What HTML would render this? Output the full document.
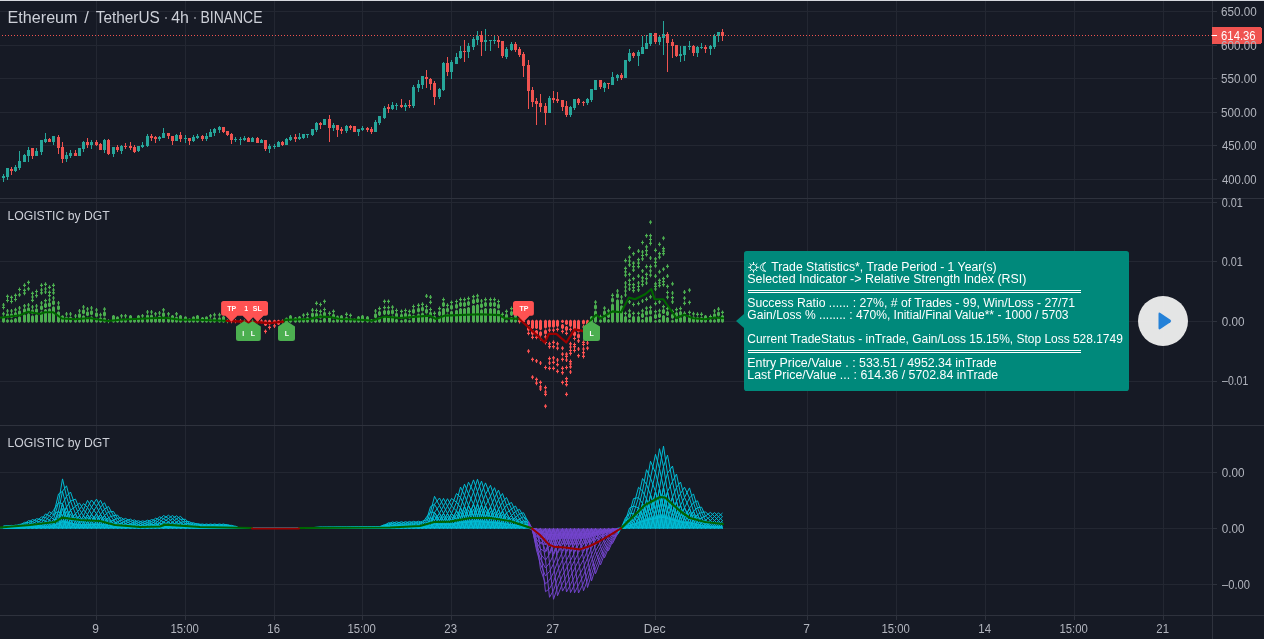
<!DOCTYPE html>
<html><head><meta charset="utf-8"><title>ETHUSDT chart</title><style>
html,body{margin:0;padding:0;width:1264px;height:639px;overflow:hidden;background:#161a25;}
text{font-family:"Liberation Sans",sans-serif;}
</style></head><body>
<svg width="1264" height="639" viewBox="0 0 1264 639" style="position:absolute;left:0;top:0;will-change:transform" font-family="Liberation Sans"><g shape-rendering="crispEdges"><rect x="96" y="1" width="1" height="614" fill="#232732"/><rect x="185" y="1" width="1" height="614" fill="#232732"/><rect x="274" y="1" width="1" height="614" fill="#232732"/><rect x="362" y="1" width="1" height="614" fill="#232732"/><rect x="451" y="1" width="1" height="614" fill="#232732"/><rect x="553" y="1" width="1" height="614" fill="#232732"/><rect x="655" y="1" width="1" height="614" fill="#232732"/><rect x="807" y="1" width="1" height="614" fill="#232732"/><rect x="896" y="1" width="1" height="614" fill="#232732"/><rect x="985" y="1" width="1" height="614" fill="#232732"/><rect x="1074" y="1" width="1" height="614" fill="#232732"/><rect x="1163" y="1" width="1" height="614" fill="#232732"/><rect x="0" y="11" width="1212" height="1" fill="#232732"/><rect x="0" y="45" width="1212" height="1" fill="#232732"/><rect x="0" y="78" width="1212" height="1" fill="#232732"/><rect x="0" y="112" width="1212" height="1" fill="#232732"/><rect x="0" y="145" width="1212" height="1" fill="#232732"/><rect x="0" y="179" width="1212" height="1" fill="#232732"/><rect x="0" y="202" width="1212" height="1" fill="#232732"/><rect x="0" y="261" width="1212" height="1" fill="#232732"/><rect x="0" y="321" width="1212" height="1" fill="#232732"/><rect x="0" y="381" width="1212" height="1" fill="#232732"/><rect x="0" y="472" width="1212" height="1" fill="#232732"/><rect x="0" y="528" width="1212" height="1" fill="#232732"/><rect x="0" y="584" width="1212" height="1" fill="#232732"/><rect x="0" y="198" width="1264" height="1" fill="#2e323d"/><rect x="0" y="425" width="1264" height="1" fill="#2e323d"/><rect x="1212" y="1" width="1" height="638" fill="#2e323d"/><rect x="0" y="615" width="1264" height="1" fill="#2e323d"/><rect x="0" y="0" width="1264" height="1" fill="#d6d8de"/><rect x="1212" y="11" width="5" height="1" fill="#2e323d"/><rect x="1212" y="45" width="5" height="1" fill="#2e323d"/><rect x="1212" y="78" width="5" height="1" fill="#2e323d"/><rect x="1212" y="112" width="5" height="1" fill="#2e323d"/><rect x="1212" y="145" width="5" height="1" fill="#2e323d"/><rect x="1212" y="179" width="5" height="1" fill="#2e323d"/><rect x="1212" y="202" width="5" height="1" fill="#2e323d"/><rect x="1212" y="261" width="5" height="1" fill="#2e323d"/><rect x="1212" y="321" width="5" height="1" fill="#2e323d"/><rect x="1212" y="381" width="5" height="1" fill="#2e323d"/><rect x="1212" y="472" width="5" height="1" fill="#2e323d"/><rect x="1212" y="528" width="5" height="1" fill="#2e323d"/><rect x="1212" y="584" width="5" height="1" fill="#2e323d"/><rect x="96" y="615" width="1" height="5" fill="#2e323d"/><rect x="185" y="615" width="1" height="5" fill="#2e323d"/><rect x="274" y="615" width="1" height="5" fill="#2e323d"/><rect x="362" y="615" width="1" height="5" fill="#2e323d"/><rect x="451" y="615" width="1" height="5" fill="#2e323d"/><rect x="553" y="615" width="1" height="5" fill="#2e323d"/><rect x="655" y="615" width="1" height="5" fill="#2e323d"/><rect x="807" y="615" width="1" height="5" fill="#2e323d"/><rect x="896" y="615" width="1" height="5" fill="#2e323d"/><rect x="985" y="615" width="1" height="5" fill="#2e323d"/><rect x="1074" y="615" width="1" height="5" fill="#2e323d"/><rect x="1163" y="615" width="1" height="5" fill="#2e323d"/><rect x="3" y="174" width="1" height="8" fill="#26a69a"/><rect x="2" y="176" width="3" height="2" fill="#26a69a"/><rect x="7" y="168" width="1" height="12" fill="#26a69a"/><rect x="6" y="168" width="3" height="9" fill="#26a69a"/><rect x="11" y="167" width="1" height="8" fill="#ef5350"/><rect x="10" y="169" width="3" height="2" fill="#ef5350"/><rect x="15" y="165" width="1" height="7" fill="#26a69a"/><rect x="14" y="167" width="3" height="4" fill="#26a69a"/><rect x="19" y="151" width="1" height="19" fill="#26a69a"/><rect x="18" y="161" width="3" height="7" fill="#26a69a"/><rect x="24" y="154" width="1" height="8" fill="#26a69a"/><rect x="23" y="155" width="3" height="7" fill="#26a69a"/><rect x="28" y="147" width="1" height="15" fill="#26a69a"/><rect x="27" y="150" width="3" height="6" fill="#26a69a"/><rect x="32" y="148" width="1" height="11" fill="#ef5350"/><rect x="31" y="148" width="3" height="8" fill="#ef5350"/><rect x="36" y="148" width="1" height="8" fill="#26a69a"/><rect x="35" y="151" width="3" height="5" fill="#26a69a"/><rect x="41" y="140" width="1" height="15" fill="#26a69a"/><rect x="40" y="140" width="3" height="12" fill="#26a69a"/><rect x="45" y="133" width="1" height="10" fill="#26a69a"/><rect x="44" y="139" width="3" height="3" fill="#26a69a"/><rect x="49" y="138" width="1" height="4" fill="#ef5350"/><rect x="48" y="139" width="3" height="3" fill="#ef5350"/><rect x="53" y="136" width="1" height="9" fill="#26a69a"/><rect x="52" y="136" width="3" height="6" fill="#26a69a"/><rect x="58" y="135" width="1" height="19" fill="#ef5350"/><rect x="57" y="137" width="3" height="11" fill="#ef5350"/><rect x="62" y="142" width="1" height="21" fill="#ef5350"/><rect x="61" y="147" width="3" height="12" fill="#ef5350"/><rect x="66" y="152" width="1" height="10" fill="#26a69a"/><rect x="65" y="155" width="3" height="4" fill="#26a69a"/><rect x="70" y="150" width="1" height="8" fill="#26a69a"/><rect x="69" y="153" width="3" height="3" fill="#26a69a"/><rect x="75" y="150" width="1" height="6" fill="#ef5350"/><rect x="74" y="153" width="3" height="3" fill="#ef5350"/><rect x="79" y="148" width="1" height="8" fill="#26a69a"/><rect x="78" y="148" width="3" height="8" fill="#26a69a"/><rect x="83" y="141" width="1" height="11" fill="#26a69a"/><rect x="82" y="142" width="3" height="7" fill="#26a69a"/><rect x="87" y="138" width="1" height="10" fill="#ef5350"/><rect x="86" y="142" width="3" height="3" fill="#ef5350"/><rect x="91" y="140" width="1" height="9" fill="#26a69a"/><rect x="90" y="142" width="3" height="3" fill="#26a69a"/><rect x="96" y="140" width="1" height="6" fill="#ef5350"/><rect x="95" y="142" width="3" height="3" fill="#ef5350"/><rect x="100" y="143" width="1" height="7" fill="#ef5350"/><rect x="99" y="144" width="3" height="6" fill="#ef5350"/><rect x="104" y="139" width="1" height="14" fill="#26a69a"/><rect x="103" y="140" width="3" height="10" fill="#26a69a"/><rect x="108" y="139" width="1" height="16" fill="#ef5350"/><rect x="107" y="140" width="3" height="14" fill="#ef5350"/><rect x="113" y="147" width="1" height="10" fill="#26a69a"/><rect x="112" y="147" width="3" height="7" fill="#26a69a"/><rect x="117" y="145" width="1" height="7" fill="#ef5350"/><rect x="116" y="147" width="3" height="3" fill="#ef5350"/><rect x="121" y="145" width="1" height="9" fill="#26a69a"/><rect x="120" y="146" width="3" height="5" fill="#26a69a"/><rect x="125" y="143" width="1" height="6" fill="#ef5350"/><rect x="124" y="146" width="3" height="1" fill="#ef5350"/><rect x="130" y="142" width="1" height="8" fill="#ef5350"/><rect x="129" y="146" width="3" height="2" fill="#ef5350"/><rect x="134" y="145" width="1" height="8" fill="#ef5350"/><rect x="133" y="147" width="3" height="5" fill="#ef5350"/><rect x="138" y="146" width="1" height="6" fill="#26a69a"/><rect x="137" y="146" width="3" height="5" fill="#26a69a"/><rect x="142" y="142" width="1" height="6" fill="#26a69a"/><rect x="141" y="145" width="3" height="2" fill="#26a69a"/><rect x="147" y="134" width="1" height="13" fill="#26a69a"/><rect x="146" y="136" width="3" height="10" fill="#26a69a"/><rect x="151" y="134" width="1" height="7" fill="#ef5350"/><rect x="150" y="136" width="3" height="2" fill="#ef5350"/><rect x="155" y="136" width="1" height="7" fill="#ef5350"/><rect x="154" y="137" width="3" height="2" fill="#ef5350"/><rect x="159" y="136" width="1" height="5" fill="#26a69a"/><rect x="158" y="137" width="3" height="2" fill="#26a69a"/><rect x="163" y="128" width="1" height="10" fill="#26a69a"/><rect x="162" y="133" width="3" height="5" fill="#26a69a"/><rect x="168" y="133" width="1" height="6" fill="#ef5350"/><rect x="167" y="133" width="3" height="3" fill="#ef5350"/><rect x="172" y="136" width="1" height="9" fill="#ef5350"/><rect x="171" y="136" width="3" height="5" fill="#ef5350"/><rect x="176" y="134" width="1" height="7" fill="#26a69a"/><rect x="175" y="135" width="3" height="6" fill="#26a69a"/><rect x="180" y="132" width="1" height="10" fill="#ef5350"/><rect x="179" y="135" width="3" height="4" fill="#ef5350"/><rect x="185" y="135" width="1" height="8" fill="#26a69a"/><rect x="184" y="138" width="3" height="1" fill="#26a69a"/><rect x="189" y="138" width="1" height="7" fill="#ef5350"/><rect x="188" y="138" width="3" height="3" fill="#ef5350"/><rect x="193" y="135" width="1" height="7" fill="#26a69a"/><rect x="192" y="137" width="3" height="4" fill="#26a69a"/><rect x="197" y="134" width="1" height="5" fill="#26a69a"/><rect x="196" y="136" width="3" height="2" fill="#26a69a"/><rect x="202" y="135" width="1" height="6" fill="#ef5350"/><rect x="201" y="136" width="3" height="3" fill="#ef5350"/><rect x="206" y="133" width="1" height="8" fill="#26a69a"/><rect x="205" y="136" width="3" height="3" fill="#26a69a"/><rect x="210" y="129" width="1" height="8" fill="#26a69a"/><rect x="209" y="132" width="3" height="5" fill="#26a69a"/><rect x="214" y="128" width="1" height="8" fill="#26a69a"/><rect x="213" y="129" width="3" height="4" fill="#26a69a"/><rect x="219" y="126" width="1" height="7" fill="#26a69a"/><rect x="218" y="127" width="3" height="3" fill="#26a69a"/><rect x="223" y="127" width="1" height="6" fill="#ef5350"/><rect x="222" y="127" width="3" height="5" fill="#ef5350"/><rect x="227" y="131" width="1" height="5" fill="#ef5350"/><rect x="226" y="131" width="3" height="4" fill="#ef5350"/><rect x="231" y="133" width="1" height="11" fill="#ef5350"/><rect x="230" y="134" width="3" height="6" fill="#ef5350"/><rect x="235" y="137" width="1" height="5" fill="#26a69a"/><rect x="234" y="139" width="3" height="1" fill="#26a69a"/><rect x="240" y="137" width="1" height="8" fill="#26a69a"/><rect x="239" y="139" width="3" height="1" fill="#26a69a"/><rect x="244" y="136" width="1" height="5" fill="#26a69a"/><rect x="243" y="138" width="3" height="2" fill="#26a69a"/><rect x="248" y="137" width="1" height="5" fill="#ef5350"/><rect x="247" y="138" width="3" height="4" fill="#ef5350"/><rect x="252" y="137" width="1" height="5" fill="#26a69a"/><rect x="251" y="138" width="3" height="4" fill="#26a69a"/><rect x="257" y="137" width="1" height="6" fill="#ef5350"/><rect x="256" y="138" width="3" height="5" fill="#ef5350"/><rect x="261" y="139" width="1" height="4" fill="#26a69a"/><rect x="260" y="140" width="3" height="3" fill="#26a69a"/><rect x="265" y="140" width="1" height="11" fill="#ef5350"/><rect x="264" y="140" width="3" height="9" fill="#ef5350"/><rect x="269" y="144" width="1" height="9" fill="#26a69a"/><rect x="268" y="146" width="3" height="3" fill="#26a69a"/><rect x="274" y="144" width="1" height="5" fill="#26a69a"/><rect x="273" y="146" width="3" height="1" fill="#26a69a"/><rect x="278" y="141" width="1" height="6" fill="#26a69a"/><rect x="277" y="142" width="3" height="5" fill="#26a69a"/><rect x="282" y="141" width="1" height="5" fill="#ef5350"/><rect x="281" y="142" width="3" height="3" fill="#ef5350"/><rect x="286" y="138" width="1" height="7" fill="#26a69a"/><rect x="285" y="139" width="3" height="6" fill="#26a69a"/><rect x="290" y="135" width="1" height="6" fill="#26a69a"/><rect x="289" y="137" width="3" height="3" fill="#26a69a"/><rect x="295" y="134" width="1" height="8" fill="#ef5350"/><rect x="294" y="137" width="3" height="2" fill="#ef5350"/><rect x="299" y="133" width="1" height="7" fill="#26a69a"/><rect x="298" y="137" width="3" height="2" fill="#26a69a"/><rect x="303" y="134" width="1" height="5" fill="#26a69a"/><rect x="302" y="134" width="3" height="4" fill="#26a69a"/><rect x="307" y="134" width="1" height="4" fill="#26a69a"/><rect x="306" y="134" width="3" height="1" fill="#26a69a"/><rect x="312" y="129" width="1" height="7" fill="#26a69a"/><rect x="311" y="129" width="3" height="6" fill="#26a69a"/><rect x="316" y="122" width="1" height="10" fill="#26a69a"/><rect x="315" y="123" width="3" height="7" fill="#26a69a"/><rect x="320" y="122" width="1" height="7" fill="#ef5350"/><rect x="319" y="123" width="3" height="2" fill="#ef5350"/><rect x="324" y="119" width="1" height="6" fill="#26a69a"/><rect x="323" y="119" width="3" height="6" fill="#26a69a"/><rect x="329" y="115" width="1" height="27" fill="#ef5350"/><rect x="328" y="119" width="3" height="9" fill="#ef5350"/><rect x="333" y="123" width="1" height="8" fill="#26a69a"/><rect x="332" y="125" width="3" height="3" fill="#26a69a"/><rect x="337" y="125" width="1" height="12" fill="#ef5350"/><rect x="336" y="125" width="3" height="5" fill="#ef5350"/><rect x="341" y="127" width="1" height="7" fill="#ef5350"/><rect x="340" y="129" width="3" height="2" fill="#ef5350"/><rect x="346" y="125" width="1" height="8" fill="#26a69a"/><rect x="345" y="126" width="3" height="5" fill="#26a69a"/><rect x="350" y="125" width="1" height="5" fill="#ef5350"/><rect x="349" y="126" width="3" height="2" fill="#ef5350"/><rect x="354" y="126" width="1" height="6" fill="#ef5350"/><rect x="353" y="126" width="3" height="6" fill="#ef5350"/><rect x="358" y="129" width="1" height="7" fill="#26a69a"/><rect x="357" y="129" width="3" height="3" fill="#26a69a"/><rect x="362" y="126" width="1" height="5" fill="#26a69a"/><rect x="361" y="128" width="3" height="2" fill="#26a69a"/><rect x="367" y="127" width="1" height="5" fill="#ef5350"/><rect x="366" y="128" width="3" height="2" fill="#ef5350"/><rect x="371" y="127" width="1" height="7" fill="#ef5350"/><rect x="370" y="129" width="3" height="3" fill="#ef5350"/><rect x="375" y="120" width="1" height="12" fill="#26a69a"/><rect x="374" y="122" width="3" height="10" fill="#26a69a"/><rect x="379" y="116" width="1" height="9" fill="#26a69a"/><rect x="378" y="116" width="3" height="7" fill="#26a69a"/><rect x="384" y="106" width="1" height="13" fill="#26a69a"/><rect x="383" y="108" width="3" height="10" fill="#26a69a"/><rect x="388" y="104" width="1" height="9" fill="#ef5350"/><rect x="387" y="107" width="3" height="2" fill="#ef5350"/><rect x="392" y="102" width="1" height="8" fill="#26a69a"/><rect x="391" y="105" width="3" height="4" fill="#26a69a"/><rect x="396" y="103" width="1" height="7" fill="#26a69a"/><rect x="395" y="105" width="3" height="1" fill="#26a69a"/><rect x="401" y="99" width="1" height="9" fill="#ef5350"/><rect x="400" y="105" width="3" height="2" fill="#ef5350"/><rect x="405" y="103" width="1" height="8" fill="#26a69a"/><rect x="404" y="105" width="3" height="2" fill="#26a69a"/><rect x="409" y="100" width="1" height="8" fill="#ef5350"/><rect x="408" y="105" width="3" height="1" fill="#ef5350"/><rect x="413" y="85" width="1" height="23" fill="#26a69a"/><rect x="412" y="87" width="3" height="19" fill="#26a69a"/><rect x="418" y="80" width="1" height="12" fill="#26a69a"/><rect x="417" y="84" width="3" height="4" fill="#26a69a"/><rect x="422" y="76" width="1" height="13" fill="#26a69a"/><rect x="421" y="76" width="3" height="9" fill="#26a69a"/><rect x="426" y="70" width="1" height="18" fill="#ef5350"/><rect x="425" y="77" width="3" height="2" fill="#ef5350"/><rect x="430" y="78" width="1" height="12" fill="#ef5350"/><rect x="429" y="79" width="3" height="5" fill="#ef5350"/><rect x="434" y="81" width="1" height="24" fill="#ef5350"/><rect x="433" y="83" width="3" height="14" fill="#ef5350"/><rect x="439" y="88" width="1" height="11" fill="#26a69a"/><rect x="438" y="89" width="3" height="8" fill="#26a69a"/><rect x="443" y="62" width="1" height="29" fill="#26a69a"/><rect x="442" y="63" width="3" height="27" fill="#26a69a"/><rect x="447" y="57" width="1" height="19" fill="#ef5350"/><rect x="446" y="63" width="3" height="9" fill="#ef5350"/><rect x="451" y="60" width="1" height="19" fill="#26a69a"/><rect x="450" y="62" width="3" height="10" fill="#26a69a"/><rect x="456" y="53" width="1" height="11" fill="#26a69a"/><rect x="455" y="57" width="3" height="7" fill="#26a69a"/><rect x="460" y="46" width="1" height="13" fill="#26a69a"/><rect x="459" y="51" width="3" height="7" fill="#26a69a"/><rect x="464" y="40" width="1" height="22" fill="#ef5350"/><rect x="463" y="51" width="3" height="1" fill="#ef5350"/><rect x="468" y="43" width="1" height="15" fill="#26a69a"/><rect x="467" y="46" width="3" height="6" fill="#26a69a"/><rect x="473" y="37" width="1" height="13" fill="#26a69a"/><rect x="472" y="39" width="3" height="8" fill="#26a69a"/><rect x="477" y="31" width="1" height="14" fill="#26a69a"/><rect x="476" y="36" width="3" height="4" fill="#26a69a"/><rect x="481" y="31" width="1" height="25" fill="#ef5350"/><rect x="480" y="35" width="3" height="7" fill="#ef5350"/><rect x="485" y="29" width="1" height="22" fill="#26a69a"/><rect x="484" y="40" width="3" height="2" fill="#26a69a"/><rect x="490" y="40" width="1" height="11" fill="#26a69a"/><rect x="489" y="40" width="3" height="1" fill="#26a69a"/><rect x="494" y="36" width="1" height="8" fill="#26a69a"/><rect x="493" y="40" width="3" height="1" fill="#26a69a"/><rect x="498" y="36" width="1" height="12" fill="#ef5350"/><rect x="497" y="40" width="3" height="2" fill="#ef5350"/><rect x="502" y="41" width="1" height="17" fill="#ef5350"/><rect x="501" y="41" width="3" height="15" fill="#ef5350"/><rect x="506" y="47" width="1" height="12" fill="#26a69a"/><rect x="505" y="49" width="3" height="8" fill="#26a69a"/><rect x="511" y="42" width="1" height="9" fill="#26a69a"/><rect x="510" y="44" width="3" height="6" fill="#26a69a"/><rect x="515" y="42" width="1" height="10" fill="#ef5350"/><rect x="514" y="44" width="3" height="6" fill="#ef5350"/><rect x="519" y="47" width="1" height="10" fill="#ef5350"/><rect x="518" y="49" width="3" height="6" fill="#ef5350"/><rect x="523" y="52" width="1" height="25" fill="#ef5350"/><rect x="522" y="54" width="3" height="12" fill="#ef5350"/><rect x="528" y="60" width="1" height="49" fill="#ef5350"/><rect x="527" y="65" width="3" height="26" fill="#ef5350"/><rect x="532" y="87" width="1" height="20" fill="#ef5350"/><rect x="531" y="90" width="3" height="12" fill="#ef5350"/><rect x="536" y="98" width="1" height="27" fill="#ef5350"/><rect x="535" y="101" width="3" height="3" fill="#ef5350"/><rect x="540" y="94" width="1" height="18" fill="#ef5350"/><rect x="539" y="103" width="3" height="4" fill="#ef5350"/><rect x="545" y="103" width="1" height="22" fill="#ef5350"/><rect x="544" y="106" width="3" height="7" fill="#ef5350"/><rect x="549" y="96" width="1" height="17" fill="#26a69a"/><rect x="548" y="98" width="3" height="15" fill="#26a69a"/><rect x="553" y="91" width="1" height="12" fill="#ef5350"/><rect x="552" y="98" width="3" height="2" fill="#ef5350"/><rect x="557" y="92" width="1" height="11" fill="#ef5350"/><rect x="556" y="99" width="3" height="2" fill="#ef5350"/><rect x="562" y="100" width="1" height="11" fill="#ef5350"/><rect x="561" y="100" width="3" height="7" fill="#ef5350"/><rect x="566" y="101" width="1" height="16" fill="#ef5350"/><rect x="565" y="106" width="3" height="9" fill="#ef5350"/><rect x="570" y="106" width="1" height="11" fill="#26a69a"/><rect x="569" y="107" width="3" height="8" fill="#26a69a"/><rect x="574" y="99" width="1" height="11" fill="#26a69a"/><rect x="573" y="99" width="3" height="9" fill="#26a69a"/><rect x="578" y="98" width="1" height="7" fill="#ef5350"/><rect x="577" y="99" width="3" height="4" fill="#ef5350"/><rect x="583" y="101" width="1" height="5" fill="#ef5350"/><rect x="582" y="102" width="3" height="1" fill="#ef5350"/><rect x="587" y="98" width="1" height="7" fill="#26a69a"/><rect x="586" y="99" width="3" height="4" fill="#26a69a"/><rect x="591" y="89" width="1" height="13" fill="#26a69a"/><rect x="590" y="89" width="3" height="11" fill="#26a69a"/><rect x="595" y="80" width="1" height="10" fill="#26a69a"/><rect x="594" y="80" width="3" height="10" fill="#26a69a"/><rect x="600" y="80" width="1" height="9" fill="#ef5350"/><rect x="599" y="80" width="3" height="7" fill="#ef5350"/><rect x="604" y="82" width="1" height="10" fill="#26a69a"/><rect x="603" y="83" width="3" height="5" fill="#26a69a"/><rect x="608" y="83" width="1" height="6" fill="#ef5350"/><rect x="607" y="83" width="3" height="1" fill="#ef5350"/><rect x="612" y="72" width="1" height="13" fill="#26a69a"/><rect x="611" y="77" width="3" height="8" fill="#26a69a"/><rect x="617" y="74" width="1" height="7" fill="#26a69a"/><rect x="616" y="75" width="3" height="3" fill="#26a69a"/><rect x="621" y="73" width="1" height="7" fill="#ef5350"/><rect x="620" y="75" width="3" height="3" fill="#ef5350"/><rect x="625" y="60" width="1" height="18" fill="#26a69a"/><rect x="624" y="60" width="3" height="18" fill="#26a69a"/><rect x="629" y="49" width="1" height="13" fill="#26a69a"/><rect x="628" y="53" width="3" height="8" fill="#26a69a"/><rect x="633" y="52" width="1" height="6" fill="#ef5350"/><rect x="632" y="53" width="3" height="3" fill="#ef5350"/><rect x="638" y="50" width="1" height="16" fill="#26a69a"/><rect x="637" y="52" width="3" height="4" fill="#26a69a"/><rect x="642" y="36" width="1" height="18" fill="#26a69a"/><rect x="641" y="47" width="3" height="7" fill="#26a69a"/><rect x="646" y="35" width="1" height="14" fill="#26a69a"/><rect x="645" y="43" width="3" height="6" fill="#26a69a"/><rect x="650" y="33" width="1" height="13" fill="#26a69a"/><rect x="649" y="33" width="3" height="11" fill="#26a69a"/><rect x="655" y="33" width="1" height="11" fill="#ef5350"/><rect x="654" y="33" width="3" height="9" fill="#ef5350"/><rect x="659" y="36" width="1" height="9" fill="#26a69a"/><rect x="658" y="37" width="3" height="5" fill="#26a69a"/><rect x="663" y="21" width="1" height="34" fill="#26a69a"/><rect x="662" y="34" width="3" height="4" fill="#26a69a"/><rect x="667" y="32" width="1" height="40" fill="#ef5350"/><rect x="666" y="34" width="3" height="9" fill="#ef5350"/><rect x="672" y="39" width="1" height="19" fill="#ef5350"/><rect x="671" y="42" width="3" height="4" fill="#ef5350"/><rect x="676" y="45" width="1" height="12" fill="#ef5350"/><rect x="675" y="45" width="3" height="11" fill="#ef5350"/><rect x="680" y="46" width="1" height="16" fill="#26a69a"/><rect x="679" y="54" width="3" height="2" fill="#26a69a"/><rect x="684" y="46" width="1" height="15" fill="#26a69a"/><rect x="683" y="46" width="3" height="9" fill="#26a69a"/><rect x="689" y="41" width="1" height="9" fill="#26a69a"/><rect x="688" y="46" width="3" height="1" fill="#26a69a"/><rect x="693" y="45" width="1" height="11" fill="#ef5350"/><rect x="692" y="46" width="3" height="7" fill="#ef5350"/><rect x="697" y="46" width="1" height="11" fill="#26a69a"/><rect x="696" y="47" width="3" height="6" fill="#26a69a"/><rect x="701" y="43" width="1" height="6" fill="#26a69a"/><rect x="700" y="47" width="3" height="1" fill="#26a69a"/><rect x="705" y="45" width="1" height="8" fill="#ef5350"/><rect x="704" y="47" width="3" height="2" fill="#ef5350"/><rect x="710" y="45" width="1" height="10" fill="#26a69a"/><rect x="709" y="46" width="3" height="3" fill="#26a69a"/><rect x="714" y="34" width="1" height="15" fill="#26a69a"/><rect x="713" y="36" width="3" height="11" fill="#26a69a"/><rect x="718" y="32" width="1" height="10" fill="#26a69a"/><rect x="717" y="32" width="3" height="4" fill="#26a69a"/><rect x="722" y="29" width="1" height="12" fill="#ef5350"/><rect x="721" y="32" width="3" height="4" fill="#ef5350"/><path d="M2 35.5h1M5 35.5h1M8 35.5h1M11 35.5h1M14 35.5h1M17 35.5h1M20 35.5h1M23 35.5h1M26 35.5h1M29 35.5h1M32 35.5h1M35 35.5h1M38 35.5h1M41 35.5h1M44 35.5h1M47 35.5h1M50 35.5h1M53 35.5h1M56 35.5h1M59 35.5h1M62 35.5h1M65 35.5h1M68 35.5h1M71 35.5h1M74 35.5h1M77 35.5h1M80 35.5h1M83 35.5h1M86 35.5h1M89 35.5h1M92 35.5h1M95 35.5h1M98 35.5h1M101 35.5h1M104 35.5h1M107 35.5h1M110 35.5h1M113 35.5h1M116 35.5h1M119 35.5h1M122 35.5h1M125 35.5h1M128 35.5h1M131 35.5h1M134 35.5h1M137 35.5h1M140 35.5h1M143 35.5h1M146 35.5h1M149 35.5h1M152 35.5h1M155 35.5h1M158 35.5h1M161 35.5h1M164 35.5h1M167 35.5h1M170 35.5h1M173 35.5h1M176 35.5h1M179 35.5h1M182 35.5h1M185 35.5h1M188 35.5h1M191 35.5h1M194 35.5h1M197 35.5h1M200 35.5h1M203 35.5h1M206 35.5h1M209 35.5h1M212 35.5h1M215 35.5h1M218 35.5h1M221 35.5h1M224 35.5h1M227 35.5h1M230 35.5h1M233 35.5h1M236 35.5h1M239 35.5h1M242 35.5h1M245 35.5h1M248 35.5h1M251 35.5h1M254 35.5h1M257 35.5h1M260 35.5h1M263 35.5h1M266 35.5h1M269 35.5h1M272 35.5h1M275 35.5h1M278 35.5h1M281 35.5h1M284 35.5h1M287 35.5h1M290 35.5h1M293 35.5h1M296 35.5h1M299 35.5h1M302 35.5h1M305 35.5h1M308 35.5h1M311 35.5h1M314 35.5h1M317 35.5h1M320 35.5h1M323 35.5h1M326 35.5h1M329 35.5h1M332 35.5h1M335 35.5h1M338 35.5h1M341 35.5h1M344 35.5h1M347 35.5h1M350 35.5h1M353 35.5h1M356 35.5h1M359 35.5h1M362 35.5h1M365 35.5h1M368 35.5h1M371 35.5h1M374 35.5h1M377 35.5h1M380 35.5h1M383 35.5h1M386 35.5h1M389 35.5h1M392 35.5h1M395 35.5h1M398 35.5h1M401 35.5h1M404 35.5h1M407 35.5h1M410 35.5h1M413 35.5h1M416 35.5h1M419 35.5h1M422 35.5h1M425 35.5h1M428 35.5h1M431 35.5h1M434 35.5h1M437 35.5h1M440 35.5h1M443 35.5h1M446 35.5h1M449 35.5h1M452 35.5h1M455 35.5h1M458 35.5h1M461 35.5h1M464 35.5h1M467 35.5h1M470 35.5h1M473 35.5h1M476 35.5h1M479 35.5h1M482 35.5h1M485 35.5h1M488 35.5h1M491 35.5h1M494 35.5h1M497 35.5h1M500 35.5h1M503 35.5h1M506 35.5h1M509 35.5h1M512 35.5h1M515 35.5h1M518 35.5h1M521 35.5h1M524 35.5h1M527 35.5h1M530 35.5h1M533 35.5h1M536 35.5h1M539 35.5h1M542 35.5h1M545 35.5h1M548 35.5h1M551 35.5h1M554 35.5h1M557 35.5h1M560 35.5h1M563 35.5h1M566 35.5h1M569 35.5h1M572 35.5h1M575 35.5h1M578 35.5h1M581 35.5h1M584 35.5h1M587 35.5h1M590 35.5h1M593 35.5h1M596 35.5h1M599 35.5h1M602 35.5h1M605 35.5h1M608 35.5h1M611 35.5h1M614 35.5h1M617 35.5h1M620 35.5h1M623 35.5h1M626 35.5h1M629 35.5h1M632 35.5h1M635 35.5h1M638 35.5h1M641 35.5h1M644 35.5h1M647 35.5h1M650 35.5h1M653 35.5h1M656 35.5h1M659 35.5h1M662 35.5h1M665 35.5h1M668 35.5h1M671 35.5h1M674 35.5h1M677 35.5h1M680 35.5h1M683 35.5h1M686 35.5h1M689 35.5h1M692 35.5h1M695 35.5h1M698 35.5h1M701 35.5h1M704 35.5h1M707 35.5h1M710 35.5h1M713 35.5h1M716 35.5h1M719 35.5h1M722 35.5h1M725 35.5h1M728 35.5h1M731 35.5h1M734 35.5h1M737 35.5h1M740 35.5h1M743 35.5h1M746 35.5h1M749 35.5h1M752 35.5h1M755 35.5h1M758 35.5h1M761 35.5h1M764 35.5h1M767 35.5h1M770 35.5h1M773 35.5h1M776 35.5h1M779 35.5h1M782 35.5h1M785 35.5h1M788 35.5h1M791 35.5h1M794 35.5h1M797 35.5h1M800 35.5h1M803 35.5h1M806 35.5h1M809 35.5h1M812 35.5h1M815 35.5h1M818 35.5h1M821 35.5h1M824 35.5h1M827 35.5h1M830 35.5h1M833 35.5h1M836 35.5h1M839 35.5h1M842 35.5h1M845 35.5h1M848 35.5h1M851 35.5h1M854 35.5h1M857 35.5h1M860 35.5h1M863 35.5h1M866 35.5h1M869 35.5h1M872 35.5h1M875 35.5h1M878 35.5h1M881 35.5h1M884 35.5h1M887 35.5h1M890 35.5h1M893 35.5h1M896 35.5h1M899 35.5h1M902 35.5h1M905 35.5h1M908 35.5h1M911 35.5h1M914 35.5h1M917 35.5h1M920 35.5h1M923 35.5h1M926 35.5h1M929 35.5h1M932 35.5h1M935 35.5h1M938 35.5h1M941 35.5h1M944 35.5h1M947 35.5h1M950 35.5h1M953 35.5h1M956 35.5h1M959 35.5h1M962 35.5h1M965 35.5h1M968 35.5h1M971 35.5h1M974 35.5h1M977 35.5h1M980 35.5h1M983 35.5h1M986 35.5h1M989 35.5h1M992 35.5h1M995 35.5h1M998 35.5h1M1001 35.5h1M1004 35.5h1M1007 35.5h1M1010 35.5h1M1013 35.5h1M1016 35.5h1M1019 35.5h1M1022 35.5h1M1025 35.5h1M1028 35.5h1M1031 35.5h1M1034 35.5h1M1037 35.5h1M1040 35.5h1M1043 35.5h1M1046 35.5h1M1049 35.5h1M1052 35.5h1M1055 35.5h1M1058 35.5h1M1061 35.5h1M1064 35.5h1M1067 35.5h1M1070 35.5h1M1073 35.5h1M1076 35.5h1M1079 35.5h1M1082 35.5h1M1085 35.5h1M1088 35.5h1M1091 35.5h1M1094 35.5h1M1097 35.5h1M1100 35.5h1M1103 35.5h1M1106 35.5h1M1109 35.5h1M1112 35.5h1M1115 35.5h1M1118 35.5h1M1121 35.5h1M1124 35.5h1M1127 35.5h1M1130 35.5h1M1133 35.5h1M1136 35.5h1M1139 35.5h1M1142 35.5h1M1145 35.5h1M1148 35.5h1M1151 35.5h1M1154 35.5h1M1157 35.5h1M1160 35.5h1M1163 35.5h1M1166 35.5h1M1169 35.5h1M1172 35.5h1M1175 35.5h1M1178 35.5h1M1181 35.5h1M1184 35.5h1M1187 35.5h1M1190 35.5h1M1193 35.5h1M1196 35.5h1M1199 35.5h1M1202 35.5h1M1205 35.5h1M1208 35.5h1M1211 35.5h1" stroke="#ef5350" stroke-width="1" fill="none"/></g><path d="M2.00 313.20h3v1.2h-3zM2.95 311.80h1.1v4h-1.1zM3.00 316.30h1l1 1.3v3.90l-1 1.3h-1l-1 -1.3v-3.90zM2.00 304.40h3v1.2h-3zM2.95 303.00h1.1v4h-1.1zM2.00 306.90h3v1.2h-3zM2.95 305.50h1.1v4h-1.1zM6.00 310.40h3v1.2h-3zM6.95 309.00h1.1v4h-1.1zM7.00 313.30h1l1 1.3v2.40l-1 1.3h-1l-1 -1.3v-2.40zM7.00 319.30h1l1 1.3v0.90l-1 1.3h-1l-1 -1.3v-0.90zM6.00 295.80h3v1.2h-3zM6.95 294.40h1.1v4h-1.1zM6.00 299.90h3v1.2h-3zM6.95 298.50h1.1v4h-1.1zM10.00 310.40h3v1.2h-3zM10.95 309.00h1.1v4h-1.1zM11.00 313.30h1l1 1.3v2.40l-1 1.3h-1l-1 -1.3v-2.40zM11.00 319.30h1l1 1.3v0.90l-1 1.3h-1l-1 -1.3v-0.90zM10.00 296.80h3v1.2h-3zM10.95 295.40h1.1v4h-1.1zM10.00 300.90h3v1.2h-3zM10.95 299.50h1.1v4h-1.1zM14.00 309.20h3v1.2h-3zM14.95 307.80h1.1v4h-1.1zM15.00 312.10h1l1 1.3v2.40l-1 1.3h-1l-1 -1.3v-2.40zM15.00 318.10h1l1 1.3v2.10l-1 1.3h-1l-1 -1.3v-2.10zM14.00 294.80h3v1.2h-3zM14.95 293.40h1.1v4h-1.1zM14.00 298.90h3v1.2h-3zM14.95 297.50h1.1v4h-1.1zM18.00 307.40h3v1.2h-3zM18.95 306.00h1.1v4h-1.1zM19.00 310.30h1l1 1.3v2.40l-1 1.3h-1l-1 -1.3v-2.40zM19.00 316.30h1l1 1.3v3.90l-1 1.3h-1l-1 -1.3v-3.90zM18.00 288.90h3v1.2h-3zM18.95 287.50h1.1v4h-1.1zM18.00 294.20h3v1.2h-3zM18.95 292.80h1.1v4h-1.1zM23.00 305.30h3v1.2h-3zM23.95 303.90h1.1v4h-1.1zM24.00 308.20h1l1 1.3v2.40l-1 1.3h-1l-1 -1.3v-2.40zM24.00 314.20h1l1 1.3v6.00l-1 1.3h-1l-1 -1.3v-6.00zM23.00 284.70h3v1.2h-3zM23.95 283.30h1.1v4h-1.1zM23.00 289.80h3v1.2h-3zM23.95 288.40h1.1v4h-1.1zM23.00 292.60h3v1.2h-3zM23.95 291.20h1.1v4h-1.1zM27.00 304.40h3v1.2h-3zM27.95 303.00h1.1v4h-1.1zM28.00 307.30h1l1 1.3v2.40l-1 1.3h-1l-1 -1.3v-2.40zM28.00 313.30h1l1 1.3v6.90l-1 1.3h-1l-1 -1.3v-6.90zM27.00 281.80h3v1.2h-3zM27.95 280.40h1.1v4h-1.1zM27.00 288.20h3v1.2h-3zM27.95 286.80h1.1v4h-1.1zM31.00 306.40h3v1.2h-3zM31.95 305.00h1.1v4h-1.1zM32.00 309.30h1l1 1.3v2.40l-1 1.3h-1l-1 -1.3v-2.40zM32.00 315.30h1l1 1.3v4.90l-1 1.3h-1l-1 -1.3v-4.90zM31.00 292.80h3v1.2h-3zM31.95 291.40h1.1v4h-1.1zM31.00 296.40h3v1.2h-3zM31.95 295.00h1.1v4h-1.1zM31.00 299.70h3v1.2h-3zM31.95 298.30h1.1v4h-1.1zM35.00 305.40h3v1.2h-3zM35.95 304.00h1.1v4h-1.1zM36.00 308.30h1l1 1.3v2.40l-1 1.3h-1l-1 -1.3v-2.40zM36.00 314.30h1l1 1.3v5.90l-1 1.3h-1l-1 -1.3v-5.90zM35.00 290.90h3v1.2h-3zM35.95 289.50h1.1v4h-1.1zM35.00 295.10h3v1.2h-3zM35.95 293.70h1.1v4h-1.1zM40.00 302.40h3v1.2h-3zM40.95 301.00h1.1v4h-1.1zM41.00 305.30h1l1 1.3v2.40l-1 1.3h-1l-1 -1.3v-2.40zM41.00 311.30h1l1 1.3v8.90l-1 1.3h-1l-1 -1.3v-8.90zM40.00 284.70h3v1.2h-3zM40.95 283.30h1.1v4h-1.1zM40.00 289.40h3v1.2h-3zM40.95 288.00h1.1v4h-1.1zM40.00 292.20h3v1.2h-3zM40.95 290.80h1.1v4h-1.1zM44.00 300.10h3v1.2h-3zM44.95 298.70h1.1v4h-1.1zM45.00 303.00h1l1 1.3v2.40l-1 1.3h-1l-1 -1.3v-2.40zM45.00 309.00h1l1 1.3v11.20l-1 1.3h-1l-1 -1.3v-11.20zM44.00 283.70h3v1.2h-3zM44.95 282.30h1.1v4h-1.1zM44.00 288.40h3v1.2h-3zM44.95 287.00h1.1v4h-1.1zM44.00 291.40h3v1.2h-3zM44.95 290.00h1.1v4h-1.1zM48.00 299.40h3v1.2h-3zM48.95 298.00h1.1v4h-1.1zM49.00 302.30h1l1 1.3v2.40l-1 1.3h-1l-1 -1.3v-2.40zM49.00 308.30h1l1 1.3v11.90l-1 1.3h-1l-1 -1.3v-11.90zM48.00 286.70h3v1.2h-3zM48.95 285.30h1.1v4h-1.1zM48.00 291.80h3v1.2h-3zM48.95 290.40h1.1v4h-1.1zM48.00 295.00h3v1.2h-3zM48.95 293.60h1.1v4h-1.1zM52.00 297.40h3v1.2h-3zM52.95 296.00h1.1v4h-1.1zM53.00 300.30h1l1 1.3v2.40l-1 1.3h-1l-1 -1.3v-2.40zM53.00 306.30h1l1 1.3v13.90l-1 1.3h-1l-1 -1.3v-13.90zM52.00 284.70h3v1.2h-3zM52.95 283.30h1.1v4h-1.1zM52.00 289.40h3v1.2h-3zM52.95 288.00h1.1v4h-1.1zM52.00 292.20h3v1.2h-3zM52.95 290.80h1.1v4h-1.1zM57.00 302.40h3v1.2h-3zM57.95 301.00h1.1v4h-1.1zM58.00 305.30h1l1 1.3v2.40l-1 1.3h-1l-1 -1.3v-2.40zM58.00 311.30h1l1 1.3v8.90l-1 1.3h-1l-1 -1.3v-8.90zM62.00 315.30h1l1 1.3v4.90l-1 1.3h-1l-1 -1.3v-4.90zM65.00 313.40h3v1.2h-3zM65.95 312.00h1.1v4h-1.1zM66.00 316.50h1l1 1.3v3.70l-1 1.3h-1l-1 -1.3v-3.70zM69.00 313.40h3v1.2h-3zM69.95 312.00h1.1v4h-1.1zM70.00 316.50h1l1 1.3v3.70l-1 1.3h-1l-1 -1.3v-3.70zM74.00 315.40h3v1.2h-3zM74.95 314.00h1.1v4h-1.1zM75.00 318.50h1l1 1.3v1.70l-1 1.3h-1l-1 -1.3v-1.70zM78.00 310.40h3v1.2h-3zM78.95 309.00h1.1v4h-1.1zM79.00 313.30h1l1 1.3v2.40l-1 1.3h-1l-1 -1.3v-2.40zM79.00 319.30h1l1 1.3v0.90l-1 1.3h-1l-1 -1.3v-0.90zM82.00 306.40h3v1.2h-3zM82.95 305.00h1.1v4h-1.1zM83.00 309.30h1l1 1.3v2.40l-1 1.3h-1l-1 -1.3v-2.40zM83.00 315.30h1l1 1.3v4.90l-1 1.3h-1l-1 -1.3v-4.90zM86.00 308.40h3v1.2h-3zM86.95 307.00h1.1v4h-1.1zM87.00 311.30h1l1 1.3v2.40l-1 1.3h-1l-1 -1.3v-2.40zM87.00 317.30h1l1 1.3v2.90l-1 1.3h-1l-1 -1.3v-2.90zM90.00 307.40h3v1.2h-3zM90.95 306.00h1.1v4h-1.1zM91.00 310.30h1l1 1.3v2.40l-1 1.3h-1l-1 -1.3v-2.40zM91.00 316.30h1l1 1.3v3.90l-1 1.3h-1l-1 -1.3v-3.90zM95.00 309.40h3v1.2h-3zM95.95 308.00h1.1v4h-1.1zM96.00 312.30h1l1 1.3v2.40l-1 1.3h-1l-1 -1.3v-2.40zM96.00 318.30h1l1 1.3v1.90l-1 1.3h-1l-1 -1.3v-1.90zM99.00 314.20h3v1.2h-3zM99.95 312.80h1.1v4h-1.1zM100.00 317.30h1l1 1.3v2.90l-1 1.3h-1l-1 -1.3v-2.90zM103.00 308.60h3v1.2h-3zM103.95 307.20h1.1v4h-1.1zM104.00 311.50h1l1 1.3v2.40l-1 1.3h-1l-1 -1.3v-2.40zM104.00 317.50h1l1 1.3v2.70l-1 1.3h-1l-1 -1.3v-2.70zM107.00 320.70h3v1.2h-3zM107.95 319.30h1.1v4h-1.1zM113.00 315.00h1l1 1.3v5.20l-1 1.3h-1l-1 -1.3v-5.20zM117.00 316.30h1l1 1.3v3.90l-1 1.3h-1l-1 -1.3v-3.90zM120.00 315.30h3v1.2h-3zM120.95 313.90h1.1v4h-1.1zM121.00 318.40h1l1 1.3v1.80l-1 1.3h-1l-1 -1.3v-1.80zM124.00 315.30h3v1.2h-3zM124.95 313.90h1.1v4h-1.1zM125.00 318.40h1l1 1.3v1.80l-1 1.3h-1l-1 -1.3v-1.80zM130.00 315.00h1l1 1.3v5.20l-1 1.3h-1l-1 -1.3v-5.20zM134.00 318.20h1l1 1.3v2.00l-1 1.3h-1l-1 -1.3v-2.00zM138.00 315.00h1l1 1.3v5.20l-1 1.3h-1l-1 -1.3v-5.20zM141.00 315.30h3v1.2h-3zM141.95 313.90h1.1v4h-1.1zM142.00 318.40h1l1 1.3v1.80l-1 1.3h-1l-1 -1.3v-1.80zM146.00 311.40h3v1.2h-3zM146.95 310.00h1.1v4h-1.1zM147.00 314.50h1l1 1.3v5.70l-1 1.3h-1l-1 -1.3v-5.70zM150.00 311.40h3v1.2h-3zM150.95 310.00h1.1v4h-1.1zM151.00 314.50h1l1 1.3v5.70l-1 1.3h-1l-1 -1.3v-5.70zM154.00 313.30h3v1.2h-3zM154.95 311.90h1.1v4h-1.1zM155.00 316.40h1l1 1.3v3.80l-1 1.3h-1l-1 -1.3v-3.80zM158.00 312.40h3v1.2h-3zM158.95 311.00h1.1v4h-1.1zM159.00 315.50h1l1 1.3v4.70l-1 1.3h-1l-1 -1.3v-4.70zM162.00 309.30h3v1.2h-3zM162.95 307.90h1.1v4h-1.1zM163.00 312.20h1l1 1.3v2.40l-1 1.3h-1l-1 -1.3v-2.40zM163.00 318.20h1l1 1.3v2.00l-1 1.3h-1l-1 -1.3v-2.00zM167.00 313.30h3v1.2h-3zM167.95 311.90h1.1v4h-1.1zM168.00 316.40h1l1 1.3v3.80l-1 1.3h-1l-1 -1.3v-3.80zM172.00 315.00h1l1 1.3v5.20l-1 1.3h-1l-1 -1.3v-5.20zM175.00 313.30h3v1.2h-3zM175.95 311.90h1.1v4h-1.1zM176.00 316.40h1l1 1.3v3.80l-1 1.3h-1l-1 -1.3v-3.80zM180.00 315.00h1l1 1.3v5.20l-1 1.3h-1l-1 -1.3v-5.20zM185.00 316.30h1l1 1.3v3.90l-1 1.3h-1l-1 -1.3v-3.90zM189.00 318.20h1l1 1.3v2.00l-1 1.3h-1l-1 -1.3v-2.00zM193.00 316.30h1l1 1.3v3.90l-1 1.3h-1l-1 -1.3v-3.90zM197.00 315.00h1l1 1.3v5.20l-1 1.3h-1l-1 -1.3v-5.20zM202.00 317.00h1l1 1.3v3.20l-1 1.3h-1l-1 -1.3v-3.20zM206.00 316.30h1l1 1.3v3.90l-1 1.3h-1l-1 -1.3v-3.90zM209.00 315.30h3v1.2h-3zM209.95 313.90h1.1v4h-1.1zM210.00 318.40h1l1 1.3v1.80l-1 1.3h-1l-1 -1.3v-1.80zM213.00 314.20h3v1.2h-3zM213.95 312.80h1.1v4h-1.1zM214.00 317.30h1l1 1.3v2.90l-1 1.3h-1l-1 -1.3v-2.90zM218.00 314.20h3v1.2h-3zM218.95 312.80h1.1v4h-1.1zM219.00 317.30h1l1 1.3v2.90l-1 1.3h-1l-1 -1.3v-2.90zM223.00 315.90h1l1 1.3v4.30l-1 1.3h-1l-1 -1.3v-4.30zM226.00 320.55h3v1.2h-3zM226.95 319.15h1.1v4h-1.1zM243.00 320.80h3v1.2h-3zM243.95 319.40h1.1v4h-1.1zM251.00 320.80h3v1.2h-3zM251.95 319.40h1.1v4h-1.1zM286.00 317.50h1l1 1.3v2.70l-1 1.3h-1l-1 -1.3v-2.70zM290.00 315.10h1l1 1.3v5.10l-1 1.3h-1l-1 -1.3v-5.10zM295.00 317.00h1l1 1.3v3.20l-1 1.3h-1l-1 -1.3v-3.20zM299.00 316.10h1l1 1.3v4.10l-1 1.3h-1l-1 -1.3v-4.10zM302.00 314.60h3v1.2h-3zM302.95 313.20h1.1v4h-1.1zM303.00 317.70h1l1 1.3v2.50l-1 1.3h-1l-1 -1.3v-2.50zM306.00 313.70h3v1.2h-3zM306.95 312.30h1.1v4h-1.1zM307.00 316.80h1l1 1.3v3.40l-1 1.3h-1l-1 -1.3v-3.40zM311.00 309.50h3v1.2h-3zM311.95 308.10h1.1v4h-1.1zM312.00 312.40h1l1 1.3v2.40l-1 1.3h-1l-1 -1.3v-2.40zM312.00 318.40h1l1 1.3v1.80l-1 1.3h-1l-1 -1.3v-1.80zM315.00 309.90h3v1.2h-3zM315.95 308.50h1.1v4h-1.1zM316.00 312.80h1l1 1.3v2.40l-1 1.3h-1l-1 -1.3v-2.40zM316.00 318.80h1l1 1.3v1.40l-1 1.3h-1l-1 -1.3v-1.40zM315.00 302.70h3v1.2h-3zM315.95 301.30h1.1v4h-1.1zM319.00 310.80h3v1.2h-3zM319.95 309.40h1.1v4h-1.1zM320.00 313.70h1l1 1.3v2.40l-1 1.3h-1l-1 -1.3v-2.40zM320.00 319.70h1l1 1.3v0.50l-1 1.3h-1l-1 -1.3v-0.50zM319.00 303.90h3v1.2h-3zM319.95 302.50h1.1v4h-1.1zM323.00 308.90h3v1.2h-3zM323.95 307.50h1.1v4h-1.1zM324.00 311.80h1l1 1.3v2.40l-1 1.3h-1l-1 -1.3v-2.40zM324.00 317.80h1l1 1.3v2.40l-1 1.3h-1l-1 -1.3v-2.40zM323.00 300.80h3v1.2h-3zM323.95 299.40h1.1v4h-1.1zM328.00 312.70h3v1.2h-3zM328.95 311.30h1.1v4h-1.1zM329.00 315.80h1l1 1.3v4.40l-1 1.3h-1l-1 -1.3v-4.40zM332.00 310.80h3v1.2h-3zM332.95 309.40h1.1v4h-1.1zM333.00 313.70h1l1 1.3v2.40l-1 1.3h-1l-1 -1.3v-2.40zM333.00 319.70h1l1 1.3v0.50l-1 1.3h-1l-1 -1.3v-0.50zM337.00 315.60h1l1 1.3v4.60l-1 1.3h-1l-1 -1.3v-4.60zM341.00 315.10h1l1 1.3v5.10l-1 1.3h-1l-1 -1.3v-5.10zM345.00 313.70h3v1.2h-3zM345.95 312.30h1.1v4h-1.1zM346.00 316.80h1l1 1.3v3.40l-1 1.3h-1l-1 -1.3v-3.40zM349.00 314.80h3v1.2h-3zM349.95 313.40h1.1v4h-1.1zM350.00 317.90h1l1 1.3v2.30l-1 1.3h-1l-1 -1.3v-2.30zM354.00 318.50h1l1 1.3v1.70l-1 1.3h-1l-1 -1.3v-1.70zM358.00 316.10h1l1 1.3v4.10l-1 1.3h-1l-1 -1.3v-4.10zM362.00 315.10h1l1 1.3v5.10l-1 1.3h-1l-1 -1.3v-5.10zM367.00 316.10h1l1 1.3v4.10l-1 1.3h-1l-1 -1.3v-4.10zM371.00 319.00h1l1 1.3v1.20l-1 1.3h-1l-1 -1.3v-1.20zM374.00 310.40h3v1.2h-3zM374.95 309.00h1.1v4h-1.1zM375.00 313.30h1l1 1.3v2.40l-1 1.3h-1l-1 -1.3v-2.40zM375.00 319.30h1l1 1.3v0.90l-1 1.3h-1l-1 -1.3v-0.90zM378.00 308.00h3v1.2h-3zM378.95 306.60h1.1v4h-1.1zM379.00 310.90h1l1 1.3v2.40l-1 1.3h-1l-1 -1.3v-2.40zM379.00 316.90h1l1 1.3v3.30l-1 1.3h-1l-1 -1.3v-3.30zM383.00 307.00h3v1.2h-3zM383.95 305.60h1.1v4h-1.1zM384.00 309.90h1l1 1.3v2.40l-1 1.3h-1l-1 -1.3v-2.40zM384.00 315.90h1l1 1.3v4.30l-1 1.3h-1l-1 -1.3v-4.30zM383.00 300.80h3v1.2h-3zM383.95 299.40h1.1v4h-1.1zM387.00 307.00h3v1.2h-3zM387.95 305.60h1.1v4h-1.1zM388.00 309.90h1l1 1.3v2.40l-1 1.3h-1l-1 -1.3v-2.40zM388.00 315.90h1l1 1.3v4.30l-1 1.3h-1l-1 -1.3v-4.30zM387.00 300.80h3v1.2h-3zM387.95 299.40h1.1v4h-1.1zM391.00 306.60h3v1.2h-3zM391.95 305.20h1.1v4h-1.1zM392.00 309.50h1l1 1.3v2.40l-1 1.3h-1l-1 -1.3v-2.40zM392.00 315.50h1l1 1.3v4.70l-1 1.3h-1l-1 -1.3v-4.70zM395.00 309.90h3v1.2h-3zM395.95 308.50h1.1v4h-1.1zM396.00 312.80h1l1 1.3v2.40l-1 1.3h-1l-1 -1.3v-2.40zM396.00 318.80h1l1 1.3v1.40l-1 1.3h-1l-1 -1.3v-1.40zM400.00 310.80h3v1.2h-3zM400.95 309.40h1.1v4h-1.1zM401.00 313.70h1l1 1.3v2.40l-1 1.3h-1l-1 -1.3v-2.40zM401.00 319.70h1l1 1.3v0.50l-1 1.3h-1l-1 -1.3v-0.50zM404.00 309.90h3v1.2h-3zM404.95 308.50h1.1v4h-1.1zM405.00 312.80h1l1 1.3v2.40l-1 1.3h-1l-1 -1.3v-2.40zM405.00 318.80h1l1 1.3v1.40l-1 1.3h-1l-1 -1.3v-1.40zM408.00 310.80h3v1.2h-3zM408.95 309.40h1.1v4h-1.1zM409.00 313.70h1l1 1.3v2.40l-1 1.3h-1l-1 -1.3v-2.40zM409.00 319.70h1l1 1.3v0.50l-1 1.3h-1l-1 -1.3v-0.50zM412.00 305.90h3v1.2h-3zM412.95 304.50h1.1v4h-1.1zM413.00 308.80h1l1 1.3v2.40l-1 1.3h-1l-1 -1.3v-2.40zM413.00 314.80h1l1 1.3v5.40l-1 1.3h-1l-1 -1.3v-5.40zM417.00 304.70h3v1.2h-3zM417.95 303.30h1.1v4h-1.1zM418.00 307.60h1l1 1.3v2.40l-1 1.3h-1l-1 -1.3v-2.40zM418.00 313.60h1l1 1.3v6.60l-1 1.3h-1l-1 -1.3v-6.60zM421.00 303.70h3v1.2h-3zM421.95 302.30h1.1v4h-1.1zM422.00 306.60h1l1 1.3v2.40l-1 1.3h-1l-1 -1.3v-2.40zM422.00 312.60h1l1 1.3v7.60l-1 1.3h-1l-1 -1.3v-7.60zM425.00 305.90h3v1.2h-3zM425.95 304.50h1.1v4h-1.1zM426.00 308.80h1l1 1.3v2.40l-1 1.3h-1l-1 -1.3v-2.40zM426.00 314.80h1l1 1.3v5.40l-1 1.3h-1l-1 -1.3v-5.40zM425.00 295.50h3v1.2h-3zM425.95 294.10h1.1v4h-1.1zM429.00 308.90h3v1.2h-3zM429.95 307.50h1.1v4h-1.1zM430.00 311.80h1l1 1.3v2.40l-1 1.3h-1l-1 -1.3v-2.40zM430.00 317.80h1l1 1.3v2.40l-1 1.3h-1l-1 -1.3v-2.40zM429.00 296.50h3v1.2h-3zM429.95 295.10h1.1v4h-1.1zM429.00 301.70h3v1.2h-3zM429.95 300.30h1.1v4h-1.1zM433.00 312.70h3v1.2h-3zM433.95 311.30h1.1v4h-1.1zM434.00 315.80h1l1 1.3v4.40l-1 1.3h-1l-1 -1.3v-4.40zM438.00 308.00h3v1.2h-3zM438.95 306.60h1.1v4h-1.1zM439.00 310.90h1l1 1.3v2.40l-1 1.3h-1l-1 -1.3v-2.40zM439.00 316.90h1l1 1.3v3.30l-1 1.3h-1l-1 -1.3v-3.30zM442.00 299.00h3v1.2h-3zM442.95 297.60h1.1v4h-1.1zM443.00 301.90h1l1 1.3v2.40l-1 1.3h-1l-1 -1.3v-2.40zM443.00 307.90h1l1 1.3v12.30l-1 1.3h-1l-1 -1.3v-12.30zM446.00 304.70h3v1.2h-3zM446.95 303.30h1.1v4h-1.1zM447.00 307.60h1l1 1.3v2.40l-1 1.3h-1l-1 -1.3v-2.40zM447.00 313.60h1l1 1.3v6.60l-1 1.3h-1l-1 -1.3v-6.60zM450.00 301.80h3v1.2h-3zM450.95 300.40h1.1v4h-1.1zM451.00 304.70h1l1 1.3v2.40l-1 1.3h-1l-1 -1.3v-2.40zM451.00 310.70h1l1 1.3v9.50l-1 1.3h-1l-1 -1.3v-9.50zM455.00 300.90h3v1.2h-3zM455.95 299.50h1.1v4h-1.1zM456.00 303.80h1l1 1.3v2.40l-1 1.3h-1l-1 -1.3v-2.40zM456.00 309.80h1l1 1.3v10.40l-1 1.3h-1l-1 -1.3v-10.40zM459.00 299.00h3v1.2h-3zM459.95 297.60h1.1v4h-1.1zM460.00 301.90h1l1 1.3v2.40l-1 1.3h-1l-1 -1.3v-2.40zM460.00 307.90h1l1 1.3v12.30l-1 1.3h-1l-1 -1.3v-12.30zM463.00 299.00h3v1.2h-3zM463.95 297.60h1.1v4h-1.1zM464.00 301.90h1l1 1.3v2.40l-1 1.3h-1l-1 -1.3v-2.40zM464.00 307.90h1l1 1.3v12.30l-1 1.3h-1l-1 -1.3v-12.30zM467.00 298.00h3v1.2h-3zM467.95 296.60h1.1v4h-1.1zM468.00 300.90h1l1 1.3v2.40l-1 1.3h-1l-1 -1.3v-2.40zM468.00 306.90h1l1 1.3v13.30l-1 1.3h-1l-1 -1.3v-13.30zM472.00 296.10h3v1.2h-3zM472.95 294.70h1.1v4h-1.1zM473.00 299.00h1l1 1.3v2.40l-1 1.3h-1l-1 -1.3v-2.40zM473.00 305.00h1l1 1.3v15.20l-1 1.3h-1l-1 -1.3v-15.20zM476.00 295.20h3v1.2h-3zM476.95 293.80h1.1v4h-1.1zM477.00 298.10h1l1 1.3v2.40l-1 1.3h-1l-1 -1.3v-2.40zM477.00 304.10h1l1 1.3v16.10l-1 1.3h-1l-1 -1.3v-16.10zM480.00 300.40h3v1.2h-3zM480.95 299.00h1.1v4h-1.1zM481.00 303.30h1l1 1.3v2.40l-1 1.3h-1l-1 -1.3v-2.40zM481.00 309.30h1l1 1.3v10.90l-1 1.3h-1l-1 -1.3v-10.90zM484.00 299.00h3v1.2h-3zM484.95 297.60h1.1v4h-1.1zM485.00 301.90h1l1 1.3v2.40l-1 1.3h-1l-1 -1.3v-2.40zM485.00 307.90h1l1 1.3v12.30l-1 1.3h-1l-1 -1.3v-12.30zM489.00 299.00h3v1.2h-3zM489.95 297.60h1.1v4h-1.1zM490.00 301.90h1l1 1.3v2.40l-1 1.3h-1l-1 -1.3v-2.40zM490.00 307.90h1l1 1.3v12.30l-1 1.3h-1l-1 -1.3v-12.30zM493.00 299.00h3v1.2h-3zM493.95 297.60h1.1v4h-1.1zM494.00 301.90h1l1 1.3v2.40l-1 1.3h-1l-1 -1.3v-2.40zM494.00 307.90h1l1 1.3v12.30l-1 1.3h-1l-1 -1.3v-12.30zM497.00 300.90h3v1.2h-3zM497.95 299.50h1.1v4h-1.1zM498.00 303.80h1l1 1.3v2.40l-1 1.3h-1l-1 -1.3v-2.40zM498.00 309.80h1l1 1.3v10.40l-1 1.3h-1l-1 -1.3v-10.40zM501.00 313.70h3v1.2h-3zM501.95 312.30h1.1v4h-1.1zM502.00 316.80h1l1 1.3v3.40l-1 1.3h-1l-1 -1.3v-3.40zM505.00 310.80h3v1.2h-3zM505.95 309.40h1.1v4h-1.1zM506.00 313.70h1l1 1.3v2.40l-1 1.3h-1l-1 -1.3v-2.40zM506.00 319.70h1l1 1.3v0.50l-1 1.3h-1l-1 -1.3v-0.50zM510.00 308.00h3v1.2h-3zM510.95 306.60h1.1v4h-1.1zM511.00 310.90h1l1 1.3v2.40l-1 1.3h-1l-1 -1.3v-2.40zM511.00 316.90h1l1 1.3v3.30l-1 1.3h-1l-1 -1.3v-3.30zM514.00 310.40h3v1.2h-3zM514.95 309.00h1.1v4h-1.1zM515.00 313.30h1l1 1.3v2.40l-1 1.3h-1l-1 -1.3v-2.40zM515.00 319.30h1l1 1.3v0.90l-1 1.3h-1l-1 -1.3v-0.90zM519.00 318.00h1l1 1.3v2.20l-1 1.3h-1l-1 -1.3v-2.20zM591.00 316.00h1l1 1.3v4.20l-1 1.3h-1l-1 -1.3v-4.20zM594.00 301.60h3v1.2h-3zM594.95 300.20h1.1v4h-1.1zM595.00 304.50h1l1 1.3v2.40l-1 1.3h-1l-1 -1.3v-2.40zM595.00 310.50h1l1 1.3v9.70l-1 1.3h-1l-1 -1.3v-9.70zM599.00 316.20h3v1.2h-3zM599.95 314.80h1.1v4h-1.1zM600.00 319.30h1l1 1.3v0.90l-1 1.3h-1l-1 -1.3v-0.90zM603.00 307.60h3v1.2h-3zM603.95 306.20h1.1v4h-1.1zM604.00 310.50h1l1 1.3v2.40l-1 1.3h-1l-1 -1.3v-2.40zM604.00 316.50h1l1 1.3v3.70l-1 1.3h-1l-1 -1.3v-3.70zM607.00 310.20h3v1.2h-3zM607.95 308.80h1.1v4h-1.1zM608.00 313.10h1l1 1.3v2.40l-1 1.3h-1l-1 -1.3v-2.40zM608.00 319.10h1l1 1.3v1.10l-1 1.3h-1l-1 -1.3v-1.10zM611.00 294.70h3v1.2h-3zM611.95 293.30h1.1v4h-1.1zM612.00 297.60h1l1 1.3v2.40l-1 1.3h-1l-1 -1.3v-2.40zM612.00 303.60h1l1 1.3v16.60l-1 1.3h-1l-1 -1.3v-16.60zM616.00 290.40h3v1.2h-3zM616.95 289.00h1.1v4h-1.1zM617.00 293.30h1l1 1.3v2.40l-1 1.3h-1l-1 -1.3v-2.40zM617.00 299.30h1l1 1.3v20.90l-1 1.3h-1l-1 -1.3v-20.90zM620.00 296.40h3v1.2h-3zM620.95 295.00h1.1v4h-1.1zM621.00 299.30h1l1 1.3v2.40l-1 1.3h-1l-1 -1.3v-2.40zM621.00 305.30h1l1 1.3v14.90l-1 1.3h-1l-1 -1.3v-14.90zM624.00 312.80h3v1.2h-3zM624.95 311.40h1.1v4h-1.1zM625.00 315.90h1l1 1.3v4.30l-1 1.3h-1l-1 -1.3v-4.30zM624.00 260.00h3v1.2h-3zM624.95 258.60h1.1v4h-1.1zM624.00 267.80h3v1.2h-3zM624.95 266.40h1.1v4h-1.1zM624.00 271.20h3v1.2h-3zM624.95 269.80h1.1v4h-1.1zM624.00 274.60h3v1.2h-3zM624.95 273.20h1.1v4h-1.1zM624.00 282.40h3v1.2h-3zM624.95 281.00h1.1v4h-1.1zM624.00 286.40h3v1.2h-3zM624.95 285.00h1.1v4h-1.1zM624.00 290.40h3v1.2h-3zM624.95 289.00h1.1v4h-1.1zM624.00 294.40h3v1.2h-3zM624.95 293.00h1.1v4h-1.1zM628.00 310.20h3v1.2h-3zM628.95 308.80h1.1v4h-1.1zM629.00 313.10h1l1 1.3v2.40l-1 1.3h-1l-1 -1.3v-2.40zM629.00 319.10h1l1 1.3v1.10l-1 1.3h-1l-1 -1.3v-1.10zM628.00 247.10h3v1.2h-3zM628.95 245.70h1.1v4h-1.1zM628.00 256.60h3v1.2h-3zM628.95 255.20h1.1v4h-1.1zM628.00 260.40h3v1.2h-3zM628.95 259.00h1.1v4h-1.1zM628.00 264.30h3v1.2h-3zM628.95 262.90h1.1v4h-1.1zM628.00 273.80h3v1.2h-3zM628.95 272.40h1.1v4h-1.1zM628.00 279.80h3v1.2h-3zM628.95 278.40h1.1v4h-1.1zM628.00 284.10h3v1.2h-3zM628.95 282.70h1.1v4h-1.1zM628.00 288.40h3v1.2h-3zM628.95 287.00h1.1v4h-1.1zM628.00 301.30h3v1.2h-3zM628.95 299.90h1.1v4h-1.1zM632.00 312.80h3v1.2h-3zM632.95 311.40h1.1v4h-1.1zM633.00 315.90h1l1 1.3v4.30l-1 1.3h-1l-1 -1.3v-4.30zM632.00 253.10h3v1.2h-3zM632.95 251.70h1.1v4h-1.1zM632.00 262.60h3v1.2h-3zM632.95 261.20h1.1v4h-1.1zM632.00 266.00h3v1.2h-3zM632.95 264.60h1.1v4h-1.1zM632.00 269.50h3v1.2h-3zM632.95 268.10h1.1v4h-1.1zM632.00 278.10h3v1.2h-3zM632.95 276.70h1.1v4h-1.1zM632.00 284.10h3v1.2h-3zM632.95 282.70h1.1v4h-1.1zM632.00 287.10h3v1.2h-3zM632.95 285.70h1.1v4h-1.1zM632.00 290.10h3v1.2h-3zM632.95 288.70h1.1v4h-1.1zM632.00 303.90h3v1.2h-3zM632.95 302.50h1.1v4h-1.1zM637.00 312.80h3v1.2h-3zM637.95 311.40h1.1v4h-1.1zM638.00 315.90h1l1 1.3v4.30l-1 1.3h-1l-1 -1.3v-4.30zM637.00 250.50h3v1.2h-3zM637.95 249.10h1.1v4h-1.1zM637.00 259.10h3v1.2h-3zM637.95 257.70h1.1v4h-1.1zM637.00 262.60h3v1.2h-3zM637.95 261.20h1.1v4h-1.1zM637.00 266.00h3v1.2h-3zM637.95 264.60h1.1v4h-1.1zM637.00 275.50h3v1.2h-3zM637.95 274.10h1.1v4h-1.1zM637.00 282.40h3v1.2h-3zM637.95 281.00h1.1v4h-1.1zM637.00 285.90h3v1.2h-3zM637.95 284.50h1.1v4h-1.1zM637.00 289.30h3v1.2h-3zM637.95 287.90h1.1v4h-1.1zM637.00 303.00h3v1.2h-3zM637.95 301.60h1.1v4h-1.1zM641.00 310.20h3v1.2h-3zM641.95 308.80h1.1v4h-1.1zM642.00 313.10h1l1 1.3v2.40l-1 1.3h-1l-1 -1.3v-2.40zM642.00 319.10h1l1 1.3v1.10l-1 1.3h-1l-1 -1.3v-1.10zM641.00 241.90h3v1.2h-3zM641.95 240.50h1.1v4h-1.1zM641.00 251.40h3v1.2h-3zM641.95 250.00h1.1v4h-1.1zM641.00 254.90h3v1.2h-3zM641.95 253.50h1.1v4h-1.1zM641.00 258.30h3v1.2h-3zM641.95 256.90h1.1v4h-1.1zM641.00 270.30h3v1.2h-3zM641.95 268.90h1.1v4h-1.1zM641.00 277.20h3v1.2h-3zM641.95 275.80h1.1v4h-1.1zM641.00 280.60h3v1.2h-3zM641.95 279.20h1.1v4h-1.1zM641.00 284.10h3v1.2h-3zM641.95 282.70h1.1v4h-1.1zM641.00 300.40h3v1.2h-3zM641.95 299.00h1.1v4h-1.1zM645.00 307.60h3v1.2h-3zM645.95 306.20h1.1v4h-1.1zM646.00 310.50h1l1 1.3v2.40l-1 1.3h-1l-1 -1.3v-2.40zM646.00 316.50h1l1 1.3v3.70l-1 1.3h-1l-1 -1.3v-3.70zM645.00 235.10h3v1.2h-3zM645.95 233.70h1.1v4h-1.1zM645.00 246.20h3v1.2h-3zM645.95 244.80h1.1v4h-1.1zM645.00 250.10h3v1.2h-3zM645.95 248.70h1.1v4h-1.1zM645.00 254.00h3v1.2h-3zM645.95 252.60h1.1v4h-1.1zM645.00 266.00h3v1.2h-3zM645.95 264.60h1.1v4h-1.1zM645.00 273.80h3v1.2h-3zM645.95 272.40h1.1v4h-1.1zM645.00 278.10h3v1.2h-3zM645.95 276.70h1.1v4h-1.1zM645.00 282.40h3v1.2h-3zM645.95 281.00h1.1v4h-1.1zM645.00 298.70h3v1.2h-3zM645.95 297.30h1.1v4h-1.1zM649.00 306.80h3v1.2h-3zM649.95 305.40h1.1v4h-1.1zM650.00 309.70h1l1 1.3v2.40l-1 1.3h-1l-1 -1.3v-2.40zM650.00 315.70h1l1 1.3v4.50l-1 1.3h-1l-1 -1.3v-4.50zM649.00 221.60h3v1.2h-3zM649.95 220.20h1.1v4h-1.1zM649.00 235.10h3v1.2h-3zM649.95 233.70h1.1v4h-1.1zM649.00 238.90h3v1.2h-3zM649.95 237.50h1.1v4h-1.1zM649.00 242.80h3v1.2h-3zM649.95 241.40h1.1v4h-1.1zM649.00 257.40h3v1.2h-3zM649.95 256.00h1.1v4h-1.1zM649.00 266.00h3v1.2h-3zM649.95 264.60h1.1v4h-1.1zM649.00 270.30h3v1.2h-3zM649.95 268.90h1.1v4h-1.1zM649.00 274.60h3v1.2h-3zM649.95 273.20h1.1v4h-1.1zM649.00 296.20h3v1.2h-3zM649.95 294.80h1.1v4h-1.1zM654.00 311.10h3v1.2h-3zM654.95 309.70h1.1v4h-1.1zM655.00 314.00h1l1 1.3v2.40l-1 1.3h-1l-1 -1.3v-2.40zM655.00 320.00h1l1 1.3v0.20l-1 1.3h-1l-1 -1.3v-0.20zM654.00 249.70h3v1.2h-3zM654.95 248.30h1.1v4h-1.1zM654.00 258.30h3v1.2h-3zM654.95 256.90h1.1v4h-1.1zM654.00 261.80h3v1.2h-3zM654.95 260.40h1.1v4h-1.1zM654.00 265.20h3v1.2h-3zM654.95 263.80h1.1v4h-1.1zM654.00 275.50h3v1.2h-3zM654.95 274.10h1.1v4h-1.1zM654.00 283.20h3v1.2h-3zM654.95 281.80h1.1v4h-1.1zM654.00 285.80h3v1.2h-3zM654.95 284.40h1.1v4h-1.1zM654.00 288.40h3v1.2h-3zM654.95 287.00h1.1v4h-1.1zM654.00 303.00h3v1.2h-3zM654.95 301.60h1.1v4h-1.1zM658.00 310.20h3v1.2h-3zM658.95 308.80h1.1v4h-1.1zM659.00 313.10h1l1 1.3v2.40l-1 1.3h-1l-1 -1.3v-2.40zM659.00 319.10h1l1 1.3v1.10l-1 1.3h-1l-1 -1.3v-1.10zM658.00 243.70h3v1.2h-3zM658.95 242.30h1.1v4h-1.1zM658.00 253.10h3v1.2h-3zM658.95 251.70h1.1v4h-1.1zM658.00 256.60h3v1.2h-3zM658.95 255.20h1.1v4h-1.1zM658.00 271.20h3v1.2h-3zM658.95 269.80h1.1v4h-1.1zM658.00 279.80h3v1.2h-3zM658.95 278.40h1.1v4h-1.1zM658.00 282.40h3v1.2h-3zM658.95 281.00h1.1v4h-1.1zM658.00 285.00h3v1.2h-3zM658.95 283.60h1.1v4h-1.1zM658.00 301.30h3v1.2h-3zM658.95 299.90h1.1v4h-1.1zM662.00 306.10h3v1.2h-3zM662.95 304.70h1.1v4h-1.1zM663.00 309.00h1l1 1.3v2.40l-1 1.3h-1l-1 -1.3v-2.40zM663.00 315.00h1l1 1.3v5.20l-1 1.3h-1l-1 -1.3v-5.20zM662.00 237.60h3v1.2h-3zM662.95 236.20h1.1v4h-1.1zM662.00 248.00h3v1.2h-3zM662.95 246.60h1.1v4h-1.1zM662.00 250.60h3v1.2h-3zM662.95 249.20h1.1v4h-1.1zM662.00 253.10h3v1.2h-3zM662.95 251.70h1.1v4h-1.1zM662.00 268.60h3v1.2h-3zM662.95 267.20h1.1v4h-1.1zM662.00 278.10h3v1.2h-3zM662.95 276.70h1.1v4h-1.1zM662.00 281.10h3v1.2h-3zM662.95 279.70h1.1v4h-1.1zM662.00 284.10h3v1.2h-3zM662.95 282.70h1.1v4h-1.1zM666.00 308.00h3v1.2h-3zM666.95 306.60h1.1v4h-1.1zM667.00 310.90h1l1 1.3v2.40l-1 1.3h-1l-1 -1.3v-2.40zM667.00 316.90h1l1 1.3v3.30l-1 1.3h-1l-1 -1.3v-3.30zM666.00 265.70h3v1.2h-3zM666.95 264.30h1.1v4h-1.1zM666.00 275.50h3v1.2h-3zM666.95 274.10h1.1v4h-1.1zM666.00 285.80h3v1.2h-3zM666.95 284.40h1.1v4h-1.1zM666.00 291.90h3v1.2h-3zM666.95 290.50h1.1v4h-1.1zM666.00 296.60h3v1.2h-3zM666.95 295.20h1.1v4h-1.1zM671.00 310.80h3v1.2h-3zM671.95 309.40h1.1v4h-1.1zM672.00 313.70h1l1 1.3v2.40l-1 1.3h-1l-1 -1.3v-2.40zM672.00 319.70h1l1 1.3v0.50l-1 1.3h-1l-1 -1.3v-0.50zM671.00 283.20h3v1.2h-3zM671.95 281.80h1.1v4h-1.1zM671.00 292.40h3v1.2h-3zM671.95 291.00h1.1v4h-1.1zM671.00 297.10h3v1.2h-3zM671.95 295.70h1.1v4h-1.1zM671.00 301.30h3v1.2h-3zM671.95 299.90h1.1v4h-1.1zM675.00 309.00h3v1.2h-3zM675.95 307.60h1.1v4h-1.1zM676.00 311.90h1l1 1.3v2.40l-1 1.3h-1l-1 -1.3v-2.40zM676.00 317.90h1l1 1.3v2.30l-1 1.3h-1l-1 -1.3v-2.30zM679.00 308.00h3v1.2h-3zM679.95 306.60h1.1v4h-1.1zM680.00 310.90h1l1 1.3v2.40l-1 1.3h-1l-1 -1.3v-2.40zM680.00 316.90h1l1 1.3v3.30l-1 1.3h-1l-1 -1.3v-3.30zM683.00 312.70h3v1.2h-3zM683.95 311.30h1.1v4h-1.1zM684.00 315.80h1l1 1.3v4.40l-1 1.3h-1l-1 -1.3v-4.40zM683.00 291.50h3v1.2h-3zM683.95 290.10h1.1v4h-1.1zM683.00 297.60h3v1.2h-3zM683.95 296.20h1.1v4h-1.1zM683.00 302.70h3v1.2h-3zM683.95 301.30h1.1v4h-1.1zM688.00 311.80h3v1.2h-3zM688.95 310.40h1.1v4h-1.1zM689.00 314.90h1l1 1.3v5.30l-1 1.3h-1l-1 -1.3v-5.30zM688.00 289.60h3v1.2h-3zM688.95 288.20h1.1v4h-1.1zM688.00 301.80h3v1.2h-3zM688.95 300.40h1.1v4h-1.1zM692.00 313.20h3v1.2h-3zM692.95 311.80h1.1v4h-1.1zM693.00 316.30h1l1 1.3v3.90l-1 1.3h-1l-1 -1.3v-3.90zM696.00 313.70h3v1.2h-3zM696.95 312.30h1.1v4h-1.1zM697.00 316.80h1l1 1.3v3.40l-1 1.3h-1l-1 -1.3v-3.40zM700.00 313.70h3v1.2h-3zM700.95 312.30h1.1v4h-1.1zM701.00 316.80h1l1 1.3v3.40l-1 1.3h-1l-1 -1.3v-3.40zM705.00 315.10h1l1 1.3v5.10l-1 1.3h-1l-1 -1.3v-5.10zM709.00 316.00h3v1.2h-3zM709.95 314.60h1.1v4h-1.1zM710.00 319.10h1l1 1.3v1.10l-1 1.3h-1l-1 -1.3v-1.10zM713.00 310.40h3v1.2h-3zM713.95 309.00h1.1v4h-1.1zM714.00 313.30h1l1 1.3v2.40l-1 1.3h-1l-1 -1.3v-2.40zM714.00 319.30h1l1 1.3v0.90l-1 1.3h-1l-1 -1.3v-0.90zM717.00 308.50h3v1.2h-3zM717.95 307.10h1.1v4h-1.1zM718.00 311.40h1l1 1.3v2.40l-1 1.3h-1l-1 -1.3v-2.40zM718.00 317.40h1l1 1.3v2.80l-1 1.3h-1l-1 -1.3v-2.80zM721.00 311.80h3v1.2h-3zM721.95 310.40h1.1v4h-1.1zM722.00 314.90h1l1 1.3v5.30l-1 1.3h-1l-1 -1.3v-5.30z" fill="#4caf50"/><path d="M230.00 320.55h3v1.2h-3zM230.95 319.15h1.1v4h-1.1zM234.00 320.55h3v1.2h-3zM234.95 319.15h1.1v4h-1.1zM239.00 320.55h3v1.2h-3zM239.95 319.15h1.1v4h-1.1zM247.00 320.55h3v1.2h-3zM247.95 319.15h1.1v4h-1.1zM256.00 320.55h3v1.2h-3zM256.95 319.15h1.1v4h-1.1zM260.00 320.55h3v1.2h-3zM260.95 319.15h1.1v4h-1.1zM265.00 319.80h1l1 1.3v3.60l-1 1.3h-1l-1 -1.3v-3.60zM264.00 330.80h3v1.2h-3zM264.95 329.40h1.1v4h-1.1zM269.00 319.80h1l1 1.3v2.50l-1 1.3h-1l-1 -1.3v-2.50zM268.00 326.80h3v1.2h-3zM268.95 325.40h1.1v4h-1.1zM274.00 319.80h1l1 1.3v1.00l-1 1.3h-1l-1 -1.3v-1.00zM273.00 325.30h3v1.2h-3zM273.95 323.90h1.1v4h-1.1zM278.00 319.80h1l1 1.3v2.60l-1 1.3h-1l-1 -1.3v-2.60zM281.00 320.80h3v1.2h-3zM281.95 319.40h1.1v4h-1.1zM518.00 320.80h3v1.2h-3zM518.95 319.40h1.1v4h-1.1zM522.00 320.80h3v1.2h-3zM522.95 319.40h1.1v4h-1.1zM528.00 319.80h1l1 1.3v2.60l-1 1.3h-1l-1 -1.3v-2.60zM528.00 326.00h1l1 1.3v2.40l-1 1.3h-1l-1 -1.3v-2.40zM527.00 332.70h3v1.2h-3zM527.95 331.30h1.1v4h-1.1zM527.00 350.60h3v1.2h-3zM527.95 349.20h1.1v4h-1.1zM532.00 319.80h1l1 1.3v6.60l-1 1.3h-1l-1 -1.3v-6.60zM532.00 330.00h1l1 1.3v2.40l-1 1.3h-1l-1 -1.3v-2.40zM531.00 336.70h3v1.2h-3zM531.95 335.30h1.1v4h-1.1zM531.00 358.80h3v1.2h-3zM531.95 357.40h1.1v4h-1.1zM531.00 376.60h3v1.2h-3zM531.95 375.20h1.1v4h-1.1zM536.00 319.80h1l1 1.3v6.60l-1 1.3h-1l-1 -1.3v-6.60zM536.00 330.00h1l1 1.3v2.40l-1 1.3h-1l-1 -1.3v-2.40zM535.00 336.70h3v1.2h-3zM535.95 335.30h1.1v4h-1.1zM535.00 360.30h3v1.2h-3zM535.95 358.90h1.1v4h-1.1zM535.00 378.80h3v1.2h-3zM535.95 377.40h1.1v4h-1.1zM535.00 382.60h3v1.2h-3zM535.95 381.20h1.1v4h-1.1zM540.00 319.80h1l1 1.3v7.80l-1 1.3h-1l-1 -1.3v-7.80zM540.00 331.20h1l1 1.3v2.40l-1 1.3h-1l-1 -1.3v-2.40zM539.00 337.90h3v1.2h-3zM539.95 336.50h1.1v4h-1.1zM539.00 362.40h3v1.2h-3zM539.95 361.00h1.1v4h-1.1zM539.00 381.80h3v1.2h-3zM539.95 380.40h1.1v4h-1.1zM539.00 386.30h3v1.2h-3zM539.95 384.90h1.1v4h-1.1zM539.00 388.40h3v1.2h-3zM539.95 387.00h1.1v4h-1.1zM545.00 319.80h1l1 1.3v6.20l-1 1.3h-1l-1 -1.3v-6.20zM545.00 329.60h1l1 1.3v2.40l-1 1.3h-1l-1 -1.3v-2.40zM544.00 336.30h3v1.2h-3zM544.95 334.90h1.1v4h-1.1zM544.00 341.90h3v1.2h-3zM544.95 340.50h1.1v4h-1.1zM544.00 366.90h3v1.2h-3zM544.95 365.50h1.1v4h-1.1zM544.00 387.00h3v1.2h-3zM544.95 385.60h1.1v4h-1.1zM544.00 391.40h3v1.2h-3zM544.95 390.00h1.1v4h-1.1zM544.00 393.70h3v1.2h-3zM544.95 392.30h1.1v4h-1.1zM544.00 405.60h3v1.2h-3zM544.95 404.20h1.1v4h-1.1zM549.00 319.80h1l1 1.3v5.30l-1 1.3h-1l-1 -1.3v-5.30zM548.00 329.60h3v1.2h-3zM548.95 328.20h1.1v4h-1.1zM548.00 343.20h3v1.2h-3zM548.95 341.80h1.1v4h-1.1zM548.00 346.10h3v1.2h-3zM548.95 344.70h1.1v4h-1.1zM548.00 358.00h3v1.2h-3zM548.95 356.60h1.1v4h-1.1zM548.00 362.40h3v1.2h-3zM548.95 361.00h1.1v4h-1.1zM548.00 367.70h3v1.2h-3zM548.95 366.30h1.1v4h-1.1zM553.00 319.80h1l1 1.3v5.30l-1 1.3h-1l-1 -1.3v-5.30zM552.00 329.60h3v1.2h-3zM552.95 328.20h1.1v4h-1.1zM552.00 341.70h3v1.2h-3zM552.95 340.30h1.1v4h-1.1zM552.00 346.10h3v1.2h-3zM552.95 344.70h1.1v4h-1.1zM552.00 357.30h3v1.2h-3zM552.95 355.90h1.1v4h-1.1zM552.00 361.70h3v1.2h-3zM552.95 360.30h1.1v4h-1.1zM552.00 367.70h3v1.2h-3zM552.95 366.30h1.1v4h-1.1zM557.00 319.80h1l1 1.3v4.50l-1 1.3h-1l-1 -1.3v-4.50zM556.00 328.80h3v1.2h-3zM556.95 327.40h1.1v4h-1.1zM556.00 343.20h3v1.2h-3zM556.95 341.80h1.1v4h-1.1zM556.00 347.60h3v1.2h-3zM556.95 346.20h1.1v4h-1.1zM556.00 359.40h3v1.2h-3zM556.95 358.00h1.1v4h-1.1zM556.00 364.00h3v1.2h-3zM556.95 362.60h1.1v4h-1.1zM556.00 370.70h3v1.2h-3zM556.95 369.30h1.1v4h-1.1zM562.00 319.80h1l1 1.3v0.70l-1 1.3h-1l-1 -1.3v-0.70zM562.00 324.10h1l1 1.3v2.40l-1 1.3h-1l-1 -1.3v-2.40zM561.00 330.80h3v1.2h-3zM561.95 329.40h1.1v4h-1.1zM561.00 347.60h3v1.2h-3zM561.95 346.20h1.1v4h-1.1zM561.00 353.60h3v1.2h-3zM561.95 352.20h1.1v4h-1.1zM561.00 358.80h3v1.2h-3zM561.95 357.40h1.1v4h-1.1zM561.00 367.70h3v1.2h-3zM561.95 366.30h1.1v4h-1.1zM561.00 372.10h3v1.2h-3zM561.95 370.70h1.1v4h-1.1zM561.00 381.80h3v1.2h-3zM561.95 380.40h1.1v4h-1.1zM566.00 319.80h1l1 1.3v2.60l-1 1.3h-1l-1 -1.3v-2.60zM566.00 326.00h1l1 1.3v2.40l-1 1.3h-1l-1 -1.3v-2.40zM565.00 332.70h3v1.2h-3zM565.95 331.30h1.1v4h-1.1zM565.00 353.60h3v1.2h-3zM565.95 352.20h1.1v4h-1.1zM565.00 355.80h3v1.2h-3zM565.95 354.40h1.1v4h-1.1zM565.00 359.40h3v1.2h-3zM565.95 358.00h1.1v4h-1.1zM565.00 366.90h3v1.2h-3zM565.95 365.50h1.1v4h-1.1zM565.00 378.10h3v1.2h-3zM565.95 376.70h1.1v4h-1.1zM565.00 380.90h3v1.2h-3zM565.95 379.50h1.1v4h-1.1zM565.00 384.00h3v1.2h-3zM565.95 382.60h1.1v4h-1.1zM565.00 393.70h3v1.2h-3zM565.95 392.30h1.1v4h-1.1zM570.00 319.80h1l1 1.3v4.50l-1 1.3h-1l-1 -1.3v-4.50zM569.00 328.80h3v1.2h-3zM569.95 327.40h1.1v4h-1.1zM569.00 343.20h3v1.2h-3zM569.95 341.80h1.1v4h-1.1zM569.00 346.40h3v1.2h-3zM569.95 345.00h1.1v4h-1.1zM569.00 349.90h3v1.2h-3zM569.95 348.50h1.1v4h-1.1zM569.00 352.80h3v1.2h-3zM569.95 351.40h1.1v4h-1.1zM569.00 361.00h3v1.2h-3zM569.95 359.60h1.1v4h-1.1zM569.00 363.40h3v1.2h-3zM569.95 362.00h1.1v4h-1.1zM569.00 366.20h3v1.2h-3zM569.95 364.80h1.1v4h-1.1zM569.00 371.40h3v1.2h-3zM569.95 370.00h1.1v4h-1.1zM574.00 319.80h1l1 1.3v7.80l-1 1.3h-1l-1 -1.3v-7.80zM574.00 331.20h1l1 1.3v2.40l-1 1.3h-1l-1 -1.3v-2.40zM573.00 337.90h3v1.2h-3zM573.95 336.50h1.1v4h-1.1zM573.00 343.90h3v1.2h-3zM573.95 342.50h1.1v4h-1.1zM573.00 346.10h3v1.2h-3zM573.95 344.70h1.1v4h-1.1zM573.00 349.90h3v1.2h-3zM573.95 348.50h1.1v4h-1.1zM578.00 319.80h1l1 1.3v10.20l-1 1.3h-1l-1 -1.3v-10.20zM578.00 333.60h1l1 1.3v2.40l-1 1.3h-1l-1 -1.3v-2.40zM577.00 340.30h3v1.2h-3zM577.95 338.90h1.1v4h-1.1zM577.00 348.40h3v1.2h-3zM577.95 347.00h1.1v4h-1.1zM577.00 355.10h3v1.2h-3zM577.95 353.70h1.1v4h-1.1zM583.00 319.80h1l1 1.3v2.10l-1 1.3h-1l-1 -1.3v-2.10zM582.00 326.40h3v1.2h-3zM582.95 325.00h1.1v4h-1.1zM582.00 341.70h3v1.2h-3zM582.95 340.30h1.1v4h-1.1zM582.00 343.90h3v1.2h-3zM582.95 342.50h1.1v4h-1.1zM582.00 348.40h3v1.2h-3zM582.95 347.00h1.1v4h-1.1zM582.00 352.10h3v1.2h-3zM582.95 350.70h1.1v4h-1.1zM582.00 355.80h3v1.2h-3zM582.95 354.40h1.1v4h-1.1zM587.00 319.80h1l1 1.3v2.60l-1 1.3h-1l-1 -1.3v-2.60zM586.00 342.40h3v1.2h-3zM586.95 341.00h1.1v4h-1.1zM586.00 347.60h3v1.2h-3zM586.95 346.20h1.1v4h-1.1z" fill="#ff5252"/><path d="M0.0 317.7 L20.0 315.3 L28.0 311.8 L40.0 314.0 L45.0 312.2 L53.0 312.2 L62.0 318.5 L75.0 319.3 L90.0 318.0 L95.0 319.0 L108.0 321.0 L120.0 319.8 L150.0 318.2 L165.0 317.8 L180.0 319.8 L195.0 319.8 L226.7 320.8" fill="none" stroke="#006400" stroke-width="2.1" stroke-linejoin="round" stroke-linecap="round" stroke-opacity="1"/><path d="M283.0 321.6 L285.0 319.9 L310.0 319.0 L320.0 316.6 L330.0 317.0 L340.0 319.0 L365.0 320.0 L372.0 320.8 L385.0 316.6 L400.0 318.0 L430.0 315.6 L436.0 319.0 L445.0 315.6 L480.0 314.2 L500.0 315.1 L505.0 318.5 L519.2 318.7" fill="none" stroke="#006400" stroke-width="2.1" stroke-linejoin="round" stroke-linecap="round" stroke-opacity="1"/><path d="M582.9 331.0 L591.0 320.0 L596.2 314.8 L600.5 318.3 L612.5 311.4 L621.1 312.2 L628.9 297.6 L634.9 299.3 L645.2 294.2 L651.3 289.0 L654.7 299.3 L663.3 299.3 L670.0 309.0 L676.5 318.2 L684.0 314.6 L693.0 318.2 L705.0 319.3 L715.0 317.5 L723.0 318.2" fill="none" stroke="#006400" stroke-width="2.1" stroke-linejoin="round" stroke-linecap="round" stroke-opacity="1"/><path d="M226.7 320.8 L240.0 321.5 L255.0 322.0 L270.0 323.2 L283.0 321.6" fill="none" stroke="#9a0000" stroke-width="2.3" stroke-linejoin="round" stroke-linecap="round" stroke-opacity="1"/><path d="M519.2 318.7 L544.6 342.5 L548.9 333.8 L556.4 333.8 L566.3 342.5 L574.6 329.4 L582.9 331.0" fill="none" stroke="#9a0000" stroke-width="2.3" stroke-linejoin="round" stroke-linecap="round" stroke-opacity="1"/><path d="M223.6 301H265.5A2.5 2.5 0 0 1 268 303.5V313.3A2.5 2.5 0 0 1 265.5 315.8H263.6L257.6 321.8L253.1 317.3L248.6 321.8L242.6 315.8H237.4L231.4 321.8L225.4 315.8H223.6A2.5 2.5 0 0 1 221.1 313.3V303.5A2.5 2.5 0 0 1 223.6 301Z" fill="#ff5252"/><path d="M515.5 301H531.4A2.5 2.5 0 0 1 533.9 303.5V313.3A2.5 2.5 0 0 1 531.4 315.8H529.6L523.6 321.8L517.6 315.8H515.5A2.5 2.5 0 0 1 513 313.3V303.5A2.5 2.5 0 0 1 515.5 301Z" fill="#ff5252"/><path d="M236 326.5L244.3 321L252.6 326.5V338.5a2.5 2.5 0 0 1 -2.5 2.5H238.5a2.5 2.5 0 0 1 -2.5 -2.5z" fill="#4caf50"/><path d="M244.3 326.5L252.6 321L260.8 326.5V338.5a2.5 2.5 0 0 1 -2.5 2.5H246.8a2.5 2.5 0 0 1 -2.5 -2.5z" fill="#4caf50"/><path d="M278 326.5L286.6 321L295 326.5V338.5a2.5 2.5 0 0 1 -2.5 2.5H280.5a2.5 2.5 0 0 1 -2.5 -2.5z" fill="#4caf50"/><path d="M583 326.5L591.2 321L600 326.5V338.5a2.5 2.5 0 0 1 -2.5 2.5H585.5a2.5 2.5 0 0 1 -2.5 -2.5z" fill="#4caf50"/><path d="M3.5 528.4 L7.5 527.7 L11.5 526.9 L15.5 526.0 L19.5 524.4 L24.5 523.8 L28.5 524.5 L32.5 526.2 L36.5 528.4 L41.5 525.5 L45.5 521.1 L49.5 515.8 L53.5 510.4 L58.5 502.6 L62.5 503.6 L66.5 517.7 L70.5 528.4 L75.5 521.1 L79.5 515.8 L83.5 509.8 L87.5 500.4 L91.5 507.1 L96.5 513.8 L100.5 521.4 L104.5 528.4 L108.5 522.9 L113.5 520.0 L117.5 518.4 L121.5 517.7 L125.5 520.9 L130.5 523.8 L134.5 526.3 L138.5 528.4 L142.5 526.5 L147.5 524.3 L151.5 521.7 L155.5 518.2 L159.5 519.7 L163.5 522.0 L168.5 525.1 L172.5 528.4 L176.5 525.2 L180.5 522.3 L185.5 521.6 L189.5 521.7 L193.5 524.1 L197.5 526.0 L202.5 527.3 L206.5 528.4 L210.5 527.3 L214.5 526.2 L219.5 525.1 L223.5 524.0 L227.5 525.5 L231.5 526.8 L235.5 527.9 L240.5 528.4 L244.5 528.4 L248.5 528.4 L252.5 528.4 L257.5 528.4 L261.5 528.4 L265.5 528.4 L269.5 528.4 L274.5 528.4 L278.5 528.4 L282.5 528.4 L286.5 528.4 L290.5 528.4 L295.5 528.4 L299.5 528.4 L303.5 528.3 L307.5 528.4 L312.5 528.2 L316.5 527.8 L320.5 527.3 L324.5 527.0 L329.5 527.3 L333.5 527.6 L337.5 528.0 L341.5 528.4 L346.5 528.0 L350.5 527.6 L354.5 527.1 L358.5 526.7 L362.5 527.1 L367.5 527.5 L371.5 527.9 L375.5 528.4 L379.5 527.9 L384.5 526.4 L388.5 524.1 L392.5 521.9 L396.5 523.5 L401.5 525.0 L405.5 526.7 L409.5 528.4 L413.5 526.6 L418.5 524.8 L422.5 522.9 L426.5 517.1 L430.5 512.1 L434.5 512.4 L439.5 520.8 L443.5 528.4 L447.5 521.0 L451.5 513.5 L456.5 502.2 L460.5 487.0 L464.5 495.3 L468.5 505.3 L473.5 516.3 L477.5 528.4 L481.5 516.6 L485.5 505.7 L490.5 496.1 L494.5 487.7 L498.5 499.7 L502.5 510.9 L506.5 520.7 L511.5 528.4 L515.5 522.8 L519.5 518.9 L523.5 516.6 L528.5 521.2M617.5 530.0 L621.5 527.8 L625.5 520.3 L629.5 508.1 L633.5 506.0 L638.5 507.9 L642.5 515.9 L646.5 528.4 L650.5 511.6 L655.5 491.4 L659.5 468.6 L663.5 446.1 L667.5 473.4 L672.5 497.2 L676.5 514.8 L680.5 528.4 L684.5 518.1 L689.5 508.2 L693.5 502.6 L697.5 500.8 L701.5 512.4 L705.5 520.2 L710.5 524.4 L714.5 528.4 L718.5 524.5 L722.5 520.7M3.5 527.8 L7.5 527.0 L11.5 526.1 L15.5 525.1 L19.5 525.4 L24.5 525.3 L28.5 526.5 L32.5 528.4 L36.5 526.0 L41.5 522.6 L45.5 517.5 L49.5 511.6 L53.5 514.9 L58.5 511.2 L62.5 516.0 L66.5 528.4 L70.5 519.3 L75.5 513.8 L79.5 509.4 L83.5 503.6 L87.5 507.4 L91.5 514.2 L96.5 521.1 L100.5 528.4 L104.5 522.0 L108.5 517.5 L113.5 515.7 L117.5 515.0 L121.5 520.3 L125.5 523.4 L130.5 526.1 L134.5 528.4 L138.5 526.5 L142.5 524.6 L147.5 522.3 L151.5 519.5 L155.5 520.7 L159.5 522.6 L163.5 525.2 L168.5 528.4 L172.5 525.2 L176.5 522.1 L180.5 519.3 L185.5 519.3 L189.5 523.4 L193.5 525.5 L197.5 527.2 L202.5 528.4 L206.5 527.3 L210.5 526.2 L214.5 525.1 L219.5 524.0 L223.5 525.1 L227.5 526.5 L231.5 527.6 L235.5 528.4 L240.5 528.4 L244.5 528.4 L248.5 528.4 L252.5 528.4 L257.5 528.4 L261.5 528.4 L265.5 528.4 L269.5 528.4 L274.5 528.4 L278.5 528.4 L282.5 528.4 L286.5 528.4 L290.5 528.4 L295.5 528.4 L299.5 528.4 L303.5 528.4 L307.5 528.3 L312.5 528.0 L316.5 527.5 L320.5 527.0 L324.5 527.3 L329.5 527.7 L333.5 528.0 L337.5 528.4 L341.5 528.0 L346.5 527.6 L350.5 527.2 L354.5 526.7 L358.5 527.1 L362.5 527.5 L367.5 528.0 L371.5 528.4 L375.5 527.9 L379.5 527.5 L384.5 525.5 L388.5 522.7 L392.5 523.5 L396.5 525.1 L401.5 526.7 L405.5 528.4 L409.5 526.7 L413.5 524.9 L418.5 523.0 L422.5 521.1 L426.5 519.9 L430.5 517.5 L434.5 520.4 L439.5 528.4 L443.5 520.9 L447.5 513.6 L451.5 506.0 L456.5 493.5 L460.5 497.4 L464.5 506.3 L468.5 516.9 L473.5 528.4 L477.5 516.1 L481.5 504.7 L485.5 494.3 L490.5 485.3 L494.5 497.9 L498.5 509.2 L502.5 519.7 L506.5 528.4 L511.5 521.9 L515.5 517.2 L519.5 514.1 L523.5 512.7 L528.5 523.0M617.5 531.5 L621.5 527.5 L625.5 517.7 L629.5 513.2 L633.5 513.5 L638.5 518.1 L642.5 528.4 L646.5 513.7 L650.5 494.9 L655.5 472.8 L659.5 448.7 L663.5 466.7 L667.5 491.7 L672.5 512.8 L676.5 528.4 L680.5 516.8 L684.5 507.8 L689.5 498.0 L693.5 493.9 L697.5 507.7 L701.5 517.8 L705.5 524.3 L710.5 528.4 L714.5 524.4 L718.5 520.6 L722.5 516.8M3.5 527.1 L7.5 526.3 L11.5 525.4 L15.5 526.0 L19.5 526.4 L24.5 526.9 L28.5 528.4 L32.5 526.2 L36.5 523.5 L41.5 519.8 L45.5 513.9 L49.5 515.8 L53.5 519.4 L58.5 519.8 L62.5 528.4 L66.5 517.7 L70.5 510.2 L75.5 506.4 L79.5 503.1 L83.5 509.8 L87.5 514.4 L91.5 521.3 L96.5 528.4 L100.5 521.4 L104.5 515.5 L108.5 512.0 L113.5 511.5 L117.5 518.4 L121.5 523.0 L125.5 525.9 L130.5 528.4 L134.5 526.3 L138.5 524.5 L142.5 522.7 L147.5 520.2 L151.5 521.7 L155.5 523.3 L159.5 525.5 L163.5 528.4 L168.5 525.1 L172.5 522.0 L176.5 518.9 L180.5 516.3 L185.5 521.6 L189.5 525.0 L193.5 527.0 L197.5 528.4 L202.5 527.3 L206.5 526.2 L210.5 525.1 L214.5 524.0 L219.5 525.1 L223.5 526.2 L227.5 527.4 L231.5 528.4 L235.5 527.9 L240.5 528.4 L244.5 528.4 L248.5 528.4 L252.5 528.4 L257.5 528.4 L261.5 528.4 L265.5 528.4 L269.5 528.4 L274.5 528.4 L278.5 528.4 L282.5 528.4 L286.5 528.4 L290.5 528.4 L295.5 528.4 L299.5 528.4 L303.5 528.3 L307.5 528.1 L312.5 527.7 L316.5 527.2 L320.5 527.3 L324.5 527.7 L329.5 528.0 L333.5 528.4 L337.5 528.0 L341.5 527.6 L346.5 527.2 L350.5 526.7 L354.5 527.1 L358.5 527.5 L362.5 528.0 L367.5 528.4 L371.5 527.9 L375.5 527.5 L379.5 527.0 L384.5 524.5 L388.5 524.1 L392.5 525.2 L396.5 526.8 L401.5 528.4 L405.5 526.7 L409.5 524.9 L413.5 523.1 L418.5 521.2 L422.5 522.9 L426.5 522.8 L430.5 523.0 L434.5 528.4 L439.5 520.8 L443.5 513.4 L447.5 506.1 L451.5 498.5 L456.5 502.2 L460.5 507.7 L464.5 517.4 L468.5 528.4 L473.5 516.3 L477.5 503.8 L481.5 492.9 L485.5 482.9 L490.5 496.1 L494.5 508.0 L498.5 518.8 L502.5 528.4 L506.5 520.7 L511.5 515.5 L515.5 511.6 L519.5 509.3 L523.5 516.6 L528.5 524.8M617.5 533.1 L621.5 527.2 L625.5 520.3 L629.5 518.3 L633.5 520.9 L638.5 528.4 L642.5 515.9 L646.5 499.0 L650.5 478.1 L655.5 454.3 L659.5 468.6 L663.5 487.3 L667.5 510.0 L672.5 528.4 L676.5 514.8 L680.5 505.2 L684.5 497.5 L689.5 487.9 L693.5 502.6 L697.5 514.6 L701.5 523.1 L705.5 528.4 L710.5 524.4 L714.5 520.5 L718.5 516.7 L722.5 513.0M3.5 526.5 L7.5 525.6 L11.5 526.1 L15.5 526.8 L19.5 527.4 L24.5 528.4 L28.5 526.5 L32.5 524.0 L36.5 521.1 L41.5 516.9 L45.5 517.5 L49.5 520.0 L53.5 523.9 L58.5 528.4 L62.5 516.0 L66.5 507.1 L70.5 501.1 L75.5 499.1 L79.5 509.4 L83.5 516.0 L87.5 521.4 L91.5 528.4 L96.5 521.1 L100.5 514.4 L104.5 509.1 L108.5 506.5 L113.5 515.7 L117.5 521.7 L121.5 525.7 L125.5 528.4 L130.5 526.1 L134.5 524.1 L138.5 522.6 L142.5 520.8 L147.5 522.3 L151.5 524.0 L155.5 525.8 L159.5 528.4 L163.5 525.2 L168.5 521.8 L172.5 518.7 L176.5 515.8 L180.5 519.3 L185.5 523.8 L189.5 526.7 L193.5 528.4 L197.5 527.2 L202.5 526.2 L206.5 525.1 L210.5 524.0 L214.5 525.1 L219.5 526.2 L223.5 527.3 L227.5 528.4 L231.5 527.6 L235.5 527.3 L240.5 528.4 L244.5 528.4 L248.5 528.4 L252.5 528.4 L257.5 528.4 L261.5 528.4 L265.5 528.4 L269.5 528.4 L274.5 528.4 L278.5 528.4 L282.5 528.4 L286.5 528.4 L290.5 528.4 L295.5 528.4 L299.5 528.4 L303.5 528.3 L307.5 528.0 L312.5 527.5 L316.5 527.5 L320.5 527.7 L324.5 528.0 L329.5 528.4 L333.5 528.0 L337.5 527.6 L341.5 527.2 L346.5 526.8 L350.5 527.2 L354.5 527.6 L358.5 528.0 L362.5 528.4 L367.5 528.0 L371.5 527.5 L375.5 527.0 L379.5 526.5 L384.5 525.5 L388.5 525.5 L392.5 526.8 L396.5 528.4 L401.5 526.7 L405.5 525.0 L409.5 523.2 L413.5 521.3 L418.5 523.0 L422.5 524.7 L426.5 525.6 L430.5 528.4 L434.5 520.4 L439.5 513.2 L443.5 505.9 L447.5 498.7 L451.5 506.0 L456.5 510.9 L460.5 518.0 L464.5 528.4 L468.5 516.9 L473.5 504.1 L477.5 491.5 L481.5 481.1 L485.5 494.3 L490.5 506.9 L494.5 518.2 L498.5 528.4 L502.5 519.7 L506.5 513.0 L511.5 509.0 L515.5 506.0 L519.5 514.1 L523.5 520.6 L528.5 526.6M617.5 534.6 L621.5 527.5 L625.5 523.0 L629.5 523.3 L633.5 528.4 L638.5 518.1 L642.5 503.4 L646.5 484.4 L650.5 461.3 L655.5 472.8 L659.5 488.5 L663.5 507.8 L667.5 528.4 L672.5 512.8 L676.5 501.2 L680.5 493.6 L684.5 487.2 L689.5 498.0 L693.5 511.2 L697.5 521.5 L701.5 528.4 L705.5 524.3 L710.5 520.4 L714.5 516.5 L718.5 512.8 L722.5 516.8M3.5 525.8 L7.5 526.3 L11.5 526.9 L15.5 527.6 L19.5 528.4 L24.5 526.9 L28.5 524.5 L32.5 521.7 L36.5 518.7 L41.5 519.8 L45.5 521.1 L49.5 524.2 L53.5 528.4 L58.5 519.8 L62.5 503.6 L66.5 496.4 L70.5 492.0 L75.5 506.4 L79.5 515.8 L83.5 522.2 L87.5 528.4 L91.5 521.3 L96.5 513.8 L100.5 507.3 L104.5 502.7 L108.5 512.0 L113.5 520.0 L117.5 525.0 L121.5 528.4 L125.5 525.9 L130.5 523.8 L134.5 522.0 L138.5 520.7 L142.5 522.7 L147.5 524.3 L151.5 526.2 L155.5 528.4 L159.5 525.5 L163.5 522.0 L168.5 518.5 L172.5 515.5 L176.5 518.9 L180.5 522.3 L185.5 526.1 L189.5 528.4 L193.5 527.0 L197.5 526.0 L202.5 525.1 L206.5 524.0 L210.5 525.1 L214.5 526.2 L219.5 527.3 L223.5 528.4 L227.5 527.4 L231.5 526.8 L235.5 526.8 L240.5 528.4 L244.5 528.4 L248.5 528.4 L252.5 528.4 L257.5 528.4 L261.5 528.4 L265.5 528.4 L269.5 528.4 L274.5 528.4 L278.5 528.4 L282.5 528.4 L286.5 528.4 L290.5 528.4 L295.5 528.4 L299.5 528.4 L303.5 528.2 L307.5 527.9 L312.5 527.7 L316.5 527.8 L320.5 528.0 L324.5 528.4 L329.5 528.0 L333.5 527.6 L337.5 527.2 L341.5 526.8 L346.5 527.2 L350.5 527.6 L354.5 528.0 L358.5 528.4 L362.5 528.0 L367.5 527.5 L371.5 527.0 L375.5 526.5 L379.5 527.0 L384.5 526.4 L388.5 527.0 L392.5 528.4 L396.5 526.8 L401.5 525.0 L405.5 523.3 L409.5 521.4 L413.5 523.1 L418.5 524.8 L422.5 526.6 L426.5 528.4 L430.5 523.0 L434.5 512.4 L439.5 505.6 L443.5 498.4 L447.5 506.1 L451.5 513.5 L456.5 519.7 L460.5 528.4 L464.5 517.4 L468.5 505.3 L473.5 492.0 L477.5 479.2 L481.5 492.9 L485.5 505.7 L490.5 517.6 L494.5 528.4 L498.5 518.8 L502.5 510.9 L506.5 505.2 L511.5 502.5 L515.5 511.6 L519.5 518.9 L523.5 524.5 L528.5 528.4M617.5 533.1 L621.5 527.8 L625.5 525.7 L629.5 528.4 L633.5 520.9 L638.5 507.9 L642.5 491.0 L646.5 469.7 L650.5 478.1 L655.5 491.4 L659.5 508.5 L663.5 528.4 L667.5 510.0 L672.5 497.2 L676.5 487.6 L680.5 482.0 L684.5 497.5 L689.5 508.2 L693.5 519.8 L697.5 528.4 L701.5 523.1 L705.5 520.2 L710.5 516.3 L714.5 512.5 L718.5 516.7 L722.5 520.7M3.5 526.5 L7.5 527.0 L11.5 527.6 L15.5 528.4 L19.5 527.4 L24.5 525.3 L28.5 522.6 L32.5 519.5 L36.5 521.1 L41.5 522.6 L45.5 524.8 L49.5 528.4 L53.5 523.9 L58.5 511.2 L62.5 491.3 L66.5 485.8 L70.5 501.1 L75.5 513.8 L79.5 522.1 L83.5 528.4 L87.5 521.4 L91.5 514.2 L96.5 506.4 L100.5 500.3 L104.5 509.1 L108.5 517.5 L113.5 524.2 L117.5 528.4 L121.5 525.7 L125.5 523.4 L130.5 521.4 L134.5 519.9 L138.5 522.6 L142.5 524.6 L147.5 526.4 L151.5 528.4 L155.5 525.8 L159.5 522.6 L163.5 518.7 L168.5 515.2 L172.5 518.7 L176.5 522.1 L180.5 525.4 L185.5 528.4 L189.5 526.7 L193.5 525.5 L197.5 524.7 L202.5 524.0 L206.5 525.1 L210.5 526.2 L214.5 527.3 L219.5 528.4 L223.5 527.3 L227.5 526.5 L231.5 526.1 L235.5 526.2 L240.5 528.4 L244.5 528.4 L248.5 528.4 L252.5 528.4 L257.5 528.4 L261.5 528.4 L265.5 528.4 L269.5 528.4 L274.5 528.4 L278.5 528.4 L282.5 528.4 L286.5 528.4 L290.5 528.4 L295.5 528.4 L299.5 528.4 L303.5 528.2 L307.5 528.0 L312.5 528.0 L316.5 528.1 L320.5 528.4 L324.5 528.0 L329.5 527.7 L333.5 527.3 L337.5 526.9 L341.5 527.2 L346.5 527.6 L350.5 528.0 L354.5 528.4 L358.5 528.0 L362.5 527.5 L367.5 527.1 L371.5 526.6 L375.5 527.0 L379.5 527.5 L384.5 527.4 L388.5 528.4 L392.5 526.8 L396.5 525.1 L401.5 523.4 L405.5 521.6 L409.5 523.2 L413.5 524.9 L418.5 526.6 L422.5 528.4 L426.5 525.6 L430.5 517.5 L434.5 504.3 L439.5 498.0 L443.5 505.9 L447.5 513.6 L451.5 520.9 L456.5 528.4 L460.5 518.0 L464.5 506.3 L468.5 493.8 L473.5 479.9 L477.5 491.5 L481.5 504.7 L485.5 517.0 L490.5 528.4 L494.5 518.2 L498.5 509.2 L502.5 502.2 L506.5 497.5 L511.5 509.0 L515.5 517.2 L519.5 523.6 L523.5 528.4 L528.5 526.6M617.5 531.5 L621.5 528.1 L625.5 528.4 L629.5 523.3 L633.5 513.5 L638.5 497.6 L642.5 478.5 L646.5 484.4 L650.5 494.9 L655.5 509.9 L659.5 528.4 L663.5 507.8 L667.5 491.7 L672.5 481.6 L676.5 474.0 L680.5 493.6 L684.5 507.8 L689.5 518.3 L693.5 528.4 L697.5 521.5 L701.5 517.8 L705.5 516.1 L710.5 512.3 L714.5 516.5 L718.5 520.6 L722.5 524.5M3.5 527.1 L7.5 527.7 L11.5 528.4 L15.5 527.6 L19.5 526.4 L24.5 523.8 L28.5 520.6 L32.5 521.7 L36.5 523.5 L41.5 525.5 L45.5 528.4 L49.5 524.2 L53.5 519.4 L58.5 502.6 L62.5 478.9 L66.5 496.4 L70.5 510.2 L75.5 521.1 L79.5 528.4 L83.5 522.2 L87.5 514.4 L91.5 507.1 L96.5 499.1 L100.5 507.3 L104.5 515.5 L108.5 522.9 L113.5 528.4 L117.5 525.0 L121.5 523.0 L125.5 520.9 L130.5 519.1 L134.5 522.0 L138.5 524.5 L142.5 526.5 L147.5 528.4 L151.5 526.2 L155.5 523.3 L159.5 519.7 L163.5 515.5 L168.5 518.5 L172.5 522.0 L176.5 525.2 L180.5 528.4 L185.5 526.1 L189.5 525.0 L193.5 524.1 L197.5 523.5 L202.5 525.1 L206.5 526.2 L210.5 527.3 L214.5 528.4 L219.5 527.3 L223.5 526.2 L227.5 525.5 L231.5 525.3 L235.5 526.8 L240.5 528.4 L244.5 528.4 L248.5 528.4 L252.5 528.4 L257.5 528.4 L261.5 528.4 L265.5 528.4 L269.5 528.4 L274.5 528.4 L278.5 528.4 L282.5 528.4 L286.5 528.4 L290.5 528.4 L295.5 528.4 L299.5 528.4 L303.5 528.2 L307.5 528.1 L312.5 528.2 L316.5 528.4 L320.5 528.0 L324.5 527.7 L329.5 527.3 L333.5 526.9 L337.5 527.2 L341.5 527.6 L346.5 528.0 L350.5 528.4 L354.5 528.0 L358.5 527.5 L362.5 527.1 L367.5 526.6 L371.5 527.0 L375.5 527.5 L379.5 527.9 L384.5 528.4 L388.5 527.0 L392.5 525.2 L396.5 523.5 L401.5 521.7 L405.5 523.3 L409.5 524.9 L413.5 526.6 L418.5 528.4 L422.5 526.6 L426.5 522.8 L430.5 512.1 L434.5 496.3 L439.5 505.6 L443.5 513.4 L447.5 521.0 L451.5 528.4 L456.5 519.7 L460.5 507.7 L464.5 495.3 L468.5 482.2 L473.5 492.0 L477.5 503.8 L481.5 516.6 L485.5 528.4 L490.5 517.6 L494.5 508.0 L498.5 499.7 L502.5 493.5 L506.5 505.2 L511.5 515.5 L515.5 522.8 L519.5 528.4 L523.5 524.5 L528.5 524.8M617.5 530.0 L621.5 528.4 L625.5 525.7 L629.5 518.3 L633.5 506.0 L638.5 487.3 L642.5 491.0 L646.5 499.0 L650.5 511.6 L655.5 528.4 L659.5 508.5 L663.5 487.3 L667.5 473.4 L672.5 466.0 L676.5 487.6 L680.5 505.2 L684.5 518.1 L689.5 528.4 L693.5 519.8 L697.5 514.6 L701.5 512.4 L705.5 512.0 L710.5 516.3 L714.5 520.5 L718.5 524.5 L722.5 528.4M3.5 527.8 L7.5 528.4 L11.5 527.6 L15.5 526.8 L19.5 525.4 L24.5 522.3 L28.5 522.6 L32.5 524.0 L36.5 526.0 L41.5 528.4 L45.5 524.8 L49.5 520.0 L53.5 514.9 L58.5 494.0 L62.5 491.3 L66.5 507.1 L70.5 519.3 L75.5 528.4 L79.5 522.1 L83.5 516.0 L87.5 507.4 L91.5 500.0 L96.5 506.4 L100.5 514.4 L104.5 522.0 L108.5 528.4 L113.5 524.2 L117.5 521.7 L121.5 520.3 L125.5 518.4 L130.5 521.4 L134.5 524.1 L138.5 526.5 L142.5 528.4 L147.5 526.4 L151.5 524.0 L155.5 520.7 L159.5 516.8 L163.5 518.7 L168.5 521.8 L172.5 525.2 L176.5 528.4 L180.5 525.4 L185.5 523.8 L189.5 523.4 L193.5 522.7 L197.5 524.7 L202.5 526.2 L206.5 527.3 L210.5 528.4 L214.5 527.3 L219.5 526.2 L223.5 525.1 L227.5 524.5 L231.5 526.1 L235.5 527.3 L240.5 528.4 L244.5 528.4 L248.5 528.4 L252.5 528.4 L257.5 528.4 L261.5 528.4 L265.5 528.4 L269.5 528.4 L274.5 528.4 L278.5 528.4 L282.5 528.4 L286.5 528.4 L290.5 528.4 L295.5 528.4 L299.5 528.4 L303.5 528.3 L307.5 528.3 L312.5 528.4 L316.5 528.1 L320.5 527.7 L324.5 527.3 L329.5 526.9 L333.5 527.3 L337.5 527.6 L341.5 528.0 L346.5 528.4 L350.5 528.0 L354.5 527.6 L358.5 527.1 L362.5 526.6 L367.5 527.1 L371.5 527.5 L375.5 527.9 L379.5 528.4 L384.5 527.4 L388.5 525.5 L392.5 523.5 L396.5 521.8 L401.5 523.4 L405.5 525.0 L409.5 526.7 L413.5 528.4 L418.5 526.6 L422.5 524.7 L426.5 519.9 L430.5 506.7 L434.5 504.3 L439.5 513.2 L443.5 520.9 L447.5 528.4 L451.5 520.9 L456.5 510.9 L460.5 497.4 L464.5 484.2 L468.5 493.8 L473.5 504.1 L477.5 516.1 L481.5 528.4 L485.5 517.0 L490.5 506.9 L494.5 497.9 L498.5 490.1 L502.5 502.2 L506.5 513.0 L511.5 521.9 L515.5 528.4 L519.5 523.6 L523.5 520.6 L528.5 523.0M617.5 528.4 L621.5 528.1 L625.5 523.0 L629.5 513.2 L633.5 498.6 L638.5 497.6 L642.5 503.4 L646.5 513.7 L650.5 528.4 L655.5 509.9 L659.5 488.5 L663.5 466.7 L667.5 455.0 L672.5 481.6 L676.5 501.2 L680.5 516.8 L684.5 528.4 L689.5 518.3 L693.5 511.2 L697.5 507.7 L701.5 507.1 L705.5 516.1 L710.5 520.4 L714.5 524.4 L718.5 528.4 L722.5 524.5M3.5 528.4 L7.5 527.7 L11.5 526.9 L15.5 527.6 L19.5 528.4 L24.5 526.9 L28.5 524.5 L32.5 526.2 L36.5 528.4 L41.5 525.5 L45.5 521.1 L49.5 524.2 L53.5 528.4 L58.5 519.8 L62.5 503.6 L66.5 517.7 L70.5 528.4 L75.5 521.1 L79.5 515.8 L83.5 522.2 L87.5 528.4 L91.5 521.3 L96.5 513.8 L100.5 521.4 L104.5 528.4 L108.5 522.9 L113.5 520.0 L117.5 525.0 L121.5 528.4 L125.5 525.9 L130.5 523.8 L134.5 526.3 L138.5 528.4 L142.5 526.5 L147.5 524.3 L151.5 526.2 L155.5 528.4 L159.5 525.5 L163.5 522.0 L168.5 525.1 L172.5 528.4 L176.5 525.2 L180.5 522.3 L185.5 526.1 L189.5 528.4 L193.5 527.0 L197.5 526.0 L202.5 527.3 L206.5 528.4 L210.5 527.3 L214.5 526.2 L219.5 527.3 L223.5 528.4 L227.5 527.4 L231.5 526.8 L235.5 527.9 L240.5 528.4 L244.5 528.4 L248.5 528.4 L252.5 528.4 L257.5 528.4 L261.5 528.4 L265.5 528.4 L269.5 528.4 L274.5 528.4 L278.5 528.4 L282.5 528.4 L286.5 528.4 L290.5 528.4 L295.5 528.4 L299.5 528.4 L303.5 528.3 L307.5 528.4 L312.5 528.2 L316.5 527.8 L320.5 528.0 L324.5 528.4 L329.5 528.0 L333.5 527.6 L337.5 528.0 L341.5 528.4 L346.5 528.0 L350.5 527.6 L354.5 528.0 L358.5 528.4 L362.5 528.0 L367.5 527.5 L371.5 527.9 L375.5 528.4 L379.5 527.9 L384.5 526.4 L388.5 527.0 L392.5 528.4 L396.5 526.8 L401.5 525.0 L405.5 526.7 L409.5 528.4 L413.5 526.6 L418.5 524.8 L422.5 526.6 L426.5 528.4 L430.5 523.0 L434.5 512.4 L439.5 520.8 L443.5 528.4 L447.5 521.0 L451.5 513.5 L456.5 519.7 L460.5 528.4 L464.5 517.4 L468.5 505.3 L473.5 516.3 L477.5 528.4 L481.5 516.6 L485.5 505.7 L490.5 517.6 L494.5 528.4 L498.5 518.8 L502.5 510.9 L506.5 520.7 L511.5 528.4 L515.5 522.8 L519.5 518.9 L523.5 524.5 L528.5 528.4M617.5 530.0 L621.5 527.8 L625.5 525.7 L629.5 528.4 L633.5 520.9 L638.5 507.9 L642.5 515.9 L646.5 528.4 L650.5 511.6 L655.5 491.4 L659.5 508.5 L663.5 528.4 L667.5 510.0 L672.5 497.2 L676.5 514.8 L680.5 528.4 L684.5 518.1 L689.5 508.2 L693.5 519.8 L697.5 528.4 L701.5 523.1 L705.5 520.2 L710.5 524.4 L714.5 528.4 L718.5 524.5 L722.5 520.7M3.5 527.8 L7.5 527.0 L11.5 527.6 L15.5 528.4 L19.5 527.4 L24.5 525.3 L28.5 526.5 L32.5 528.4 L36.5 526.0 L41.5 522.6 L45.5 524.8 L49.5 528.4 L53.5 523.9 L58.5 511.2 L62.5 516.0 L66.5 528.4 L70.5 519.3 L75.5 513.8 L79.5 522.1 L83.5 528.4 L87.5 521.4 L91.5 514.2 L96.5 521.1 L100.5 528.4 L104.5 522.0 L108.5 517.5 L113.5 524.2 L117.5 528.4 L121.5 525.7 L125.5 523.4 L130.5 526.1 L134.5 528.4 L138.5 526.5 L142.5 524.6 L147.5 526.4 L151.5 528.4 L155.5 525.8 L159.5 522.6 L163.5 525.2 L168.5 528.4 L172.5 525.2 L176.5 522.1 L180.5 525.4 L185.5 528.4 L189.5 526.7 L193.5 525.5 L197.5 527.2 L202.5 528.4 L206.5 527.3 L210.5 526.2 L214.5 527.3 L219.5 528.4 L223.5 527.3 L227.5 526.5 L231.5 527.6 L235.5 528.4 L240.5 528.4 L244.5 528.4 L248.5 528.4 L252.5 528.4 L257.5 528.4 L261.5 528.4 L265.5 528.4 L269.5 528.4 L274.5 528.4 L278.5 528.4 L282.5 528.4 L286.5 528.4 L290.5 528.4 L295.5 528.4 L299.5 528.4 L303.5 528.4 L307.5 528.3 L312.5 528.0 L316.5 528.1 L320.5 528.4 L324.5 528.0 L329.5 527.7 L333.5 528.0 L337.5 528.4 L341.5 528.0 L346.5 527.6 L350.5 528.0 L354.5 528.4 L358.5 528.0 L362.5 527.5 L367.5 528.0 L371.5 528.4 L375.5 527.9 L379.5 527.5 L384.5 527.4 L388.5 528.4 L392.5 526.8 L396.5 525.1 L401.5 526.7 L405.5 528.4 L409.5 526.7 L413.5 524.9 L418.5 526.6 L422.5 528.4 L426.5 525.6 L430.5 517.5 L434.5 520.4 L439.5 528.4 L443.5 520.9 L447.5 513.6 L451.5 520.9 L456.5 528.4 L460.5 518.0 L464.5 506.3 L468.5 516.9 L473.5 528.4 L477.5 516.1 L481.5 504.7 L485.5 517.0 L490.5 528.4 L494.5 518.2 L498.5 509.2 L502.5 519.7 L506.5 528.4 L511.5 521.9 L515.5 517.2 L519.5 523.6 L523.5 528.4 L528.5 526.6M617.5 531.5 L621.5 528.1 L625.5 528.4 L629.5 523.3 L633.5 513.5 L638.5 518.1 L642.5 528.4 L646.5 513.7 L650.5 494.9 L655.5 509.9 L659.5 528.4 L663.5 507.8 L667.5 491.7 L672.5 512.8 L676.5 528.4 L680.5 516.8 L684.5 507.8 L689.5 518.3 L693.5 528.4 L697.5 521.5 L701.5 517.8 L705.5 524.3 L710.5 528.4 L714.5 524.4 L718.5 520.6 L722.5 524.5M3.5 527.1 L7.5 527.7 L11.5 528.4 L15.5 527.6 L19.5 526.4 L24.5 526.9 L28.5 528.4 L32.5 526.2 L36.5 523.5 L41.5 525.5 L45.5 528.4 L49.5 524.2 L53.5 519.4 L58.5 519.8 L62.5 528.4 L66.5 517.7 L70.5 510.2 L75.5 521.1 L79.5 528.4 L83.5 522.2 L87.5 514.4 L91.5 521.3 L96.5 528.4 L100.5 521.4 L104.5 515.5 L108.5 522.9 L113.5 528.4 L117.5 525.0 L121.5 523.0 L125.5 525.9 L130.5 528.4 L134.5 526.3 L138.5 524.5 L142.5 526.5 L147.5 528.4 L151.5 526.2 L155.5 523.3 L159.5 525.5 L163.5 528.4 L168.5 525.1 L172.5 522.0 L176.5 525.2 L180.5 528.4 L185.5 526.1 L189.5 525.0 L193.5 527.0 L197.5 528.4 L202.5 527.3 L206.5 526.2 L210.5 527.3 L214.5 528.4 L219.5 527.3 L223.5 526.2 L227.5 527.4 L231.5 528.4 L235.5 527.9 L240.5 528.4 L244.5 528.4 L248.5 528.4 L252.5 528.4 L257.5 528.4 L261.5 528.4 L265.5 528.4 L269.5 528.4 L274.5 528.4 L278.5 528.4 L282.5 528.4 L286.5 528.4 L290.5 528.4 L295.5 528.4 L299.5 528.4 L303.5 528.3 L307.5 528.1 L312.5 528.2 L316.5 528.4 L320.5 528.0 L324.5 527.7 L329.5 528.0 L333.5 528.4 L337.5 528.0 L341.5 527.6 L346.5 528.0 L350.5 528.4 L354.5 528.0 L358.5 527.5 L362.5 528.0 L367.5 528.4 L371.5 527.9 L375.5 527.5 L379.5 527.9 L384.5 528.4 L388.5 527.0 L392.5 525.2 L396.5 526.8 L401.5 528.4 L405.5 526.7 L409.5 524.9 L413.5 526.6 L418.5 528.4 L422.5 526.6 L426.5 522.8 L430.5 523.0 L434.5 528.4 L439.5 520.8 L443.5 513.4 L447.5 521.0 L451.5 528.4 L456.5 519.7 L460.5 507.7 L464.5 517.4 L468.5 528.4 L473.5 516.3 L477.5 503.8 L481.5 516.6 L485.5 528.4 L490.5 517.6 L494.5 508.0 L498.5 518.8 L502.5 528.4 L506.5 520.7 L511.5 515.5 L515.5 522.8 L519.5 528.4 L523.5 524.5 L528.5 524.8M617.5 530.0 L621.5 528.4 L625.5 525.7 L629.5 518.3 L633.5 520.9 L638.5 528.4 L642.5 515.9 L646.5 499.0 L650.5 511.6 L655.5 528.4 L659.5 508.5 L663.5 487.3 L667.5 510.0 L672.5 528.4 L676.5 514.8 L680.5 505.2 L684.5 518.1 L689.5 528.4 L693.5 519.8 L697.5 514.6 L701.5 523.1 L705.5 528.4 L710.5 524.4 L714.5 520.5 L718.5 524.5 L722.5 528.4M3.5 527.8 L7.5 528.4 L11.5 527.6 L15.5 526.8 L19.5 527.4 L24.5 528.4 L28.5 526.5 L32.5 524.0 L36.5 526.0 L41.5 528.4 L45.5 524.8 L49.5 520.0 L53.5 523.9 L58.5 528.4 L62.5 516.0 L66.5 507.1 L70.5 519.3 L75.5 528.4 L79.5 522.1 L83.5 516.0 L87.5 521.4 L91.5 528.4 L96.5 521.1 L100.5 514.4 L104.5 522.0 L108.5 528.4 L113.5 524.2 L117.5 521.7 L121.5 525.7 L125.5 528.4 L130.5 526.1 L134.5 524.1 L138.5 526.5 L142.5 528.4 L147.5 526.4 L151.5 524.0 L155.5 525.8 L159.5 528.4 L163.5 525.2 L168.5 521.8 L172.5 525.2 L176.5 528.4 L180.5 525.4 L185.5 523.8 L189.5 526.7 L193.5 528.4 L197.5 527.2 L202.5 526.2 L206.5 527.3 L210.5 528.4 L214.5 527.3 L219.5 526.2 L223.5 527.3 L227.5 528.4 L231.5 527.6 L235.5 527.3 L240.5 528.4 L244.5 528.4 L248.5 528.4 L252.5 528.4 L257.5 528.4 L261.5 528.4 L265.5 528.4 L269.5 528.4 L274.5 528.4 L278.5 528.4 L282.5 528.4 L286.5 528.4 L290.5 528.4 L295.5 528.4 L299.5 528.4 L303.5 528.3 L307.5 528.3 L312.5 528.4 L316.5 528.1 L320.5 527.7 L324.5 528.0 L329.5 528.4 L333.5 528.0 L337.5 527.6 L341.5 528.0 L346.5 528.4 L350.5 528.0 L354.5 527.6 L358.5 528.0 L362.5 528.4 L367.5 528.0 L371.5 527.5 L375.5 527.9 L379.5 528.4 L384.5 527.4 L388.5 525.5 L392.5 526.8 L396.5 528.4 L401.5 526.7 L405.5 525.0 L409.5 526.7 L413.5 528.4 L418.5 526.6 L422.5 524.7 L426.5 525.6 L430.5 528.4 L434.5 520.4 L439.5 513.2 L443.5 520.9 L447.5 528.4 L451.5 520.9 L456.5 510.9 L460.5 518.0 L464.5 528.4 L468.5 516.9 L473.5 504.1 L477.5 516.1 L481.5 528.4 L485.5 517.0 L490.5 506.9 L494.5 518.2 L498.5 528.4 L502.5 519.7 L506.5 513.0 L511.5 521.9 L515.5 528.4 L519.5 523.6 L523.5 520.6 L528.5 526.6M617.5 528.4 L621.5 528.1 L625.5 523.0 L629.5 523.3 L633.5 528.4 L638.5 518.1 L642.5 503.4 L646.5 513.7 L650.5 528.4 L655.5 509.9 L659.5 488.5 L663.5 507.8 L667.5 528.4 L672.5 512.8 L676.5 501.2 L680.5 516.8 L684.5 528.4 L689.5 518.3 L693.5 511.2 L697.5 521.5 L701.5 528.4 L705.5 524.3 L710.5 520.4 L714.5 524.4 L718.5 528.4 L722.5 524.5M3.5 528.1 L7.5 527.3 L11.5 528.0 L15.5 528.0 L19.5 526.8 L24.5 527.6 L28.5 527.4 L32.5 524.8 L36.5 527.1 L41.5 526.9 L45.5 522.6 L49.5 526.2 L53.5 526.0 L58.5 514.6 L62.5 521.8 L66.5 522.7 L70.5 513.8 L75.5 524.5 L79.5 525.0 L83.5 518.5 L87.5 524.7 L91.5 524.6 L96.5 516.7 L100.5 524.7 L104.5 525.0 L108.5 519.6 L113.5 526.1 L117.5 526.6 L121.5 524.1 L125.5 527.1 L130.5 527.2 L134.5 525.0 L138.5 527.4 L142.5 527.4 L147.5 525.1 L151.5 527.2 L155.5 527.0 L159.5 523.8 L163.5 526.7 L168.5 526.6 L172.5 523.2 L176.5 526.7 L180.5 526.8 L185.5 524.8 L189.5 527.5 L193.5 527.6 L197.5 526.4 L202.5 527.8 L206.5 527.8 L210.5 526.6 L214.5 527.8 L219.5 527.8 L223.5 526.6 L227.5 527.9 L231.5 528.0 L235.5 527.5 L240.5 528.4 L244.5 528.4 L248.5 528.4 L252.5 528.4 L257.5 528.4 L261.5 528.4 L265.5 528.4 L269.5 528.4 L274.5 528.4 L278.5 528.4 L282.5 528.4 L286.5 528.4 L290.5 528.4 L295.5 528.4 L299.5 528.4 L303.5 528.4 L307.5 528.3 L312.5 528.0 L316.5 528.2 L320.5 528.2 L324.5 527.8 L329.5 528.2 L333.5 528.2 L337.5 527.8 L341.5 528.2 L346.5 528.2 L350.5 527.7 L354.5 528.2 L358.5 528.2 L362.5 527.7 L367.5 528.2 L371.5 528.2 L375.5 527.7 L379.5 528.1 L384.5 527.9 L388.5 526.1 L392.5 527.5 L396.5 527.5 L401.5 525.7 L405.5 527.5 L409.5 527.5 L413.5 525.6 L418.5 527.4 L422.5 527.4 L426.5 523.9 L430.5 525.5 L434.5 524.1 L439.5 516.3 L443.5 524.4 L447.5 524.4 L451.5 516.4 L456.5 523.7 L460.5 522.9 L464.5 510.7 L468.5 522.2 L473.5 521.9 L477.5 508.7 L481.5 522.1 L485.5 522.3 L490.5 511.2 L494.5 523.0 L498.5 523.3 L502.5 514.4 L506.5 524.3 L511.5 524.9 L515.5 519.4 L519.5 525.9 L523.5 526.3 L528.5 525.5M617.5 530.9 L621.5 528.2 L625.5 527.0 L629.5 520.3 L633.5 524.4 L638.5 522.9 L642.5 508.4 L646.5 520.6 L650.5 519.5 L655.5 498.8 L659.5 517.8 L663.5 517.4 L667.5 499.0 L672.5 520.1 L676.5 521.1 L680.5 509.8 L684.5 522.9 L689.5 523.0 L693.5 514.6 L697.5 524.7 L701.5 525.6 L705.5 521.9 L710.5 526.3 L714.5 526.3 L718.5 522.1 L722.5 526.3M3.5 527.4 L7.5 528.0 L11.5 528.0 L15.5 527.1 L19.5 527.9 L24.5 527.6 L28.5 525.3 L32.5 527.2 L36.5 527.1 L41.5 523.8 L45.5 526.5 L49.5 526.2 L53.5 521.2 L58.5 523.8 L62.5 521.8 L66.5 511.4 L70.5 523.5 L75.5 524.5 L79.5 518.3 L83.5 525.1 L87.5 524.7 L91.5 517.0 L96.5 524.5 L100.5 524.7 L104.5 518.1 L108.5 525.5 L113.5 526.1 L117.5 523.0 L121.5 527.0 L125.5 527.1 L130.5 524.7 L134.5 527.3 L138.5 527.4 L142.5 525.3 L147.5 527.3 L151.5 527.2 L155.5 524.3 L159.5 526.9 L163.5 526.7 L168.5 523.1 L172.5 526.7 L176.5 526.7 L180.5 523.6 L185.5 527.2 L189.5 527.5 L193.5 526.1 L197.5 527.7 L202.5 527.8 L206.5 526.6 L210.5 527.8 L214.5 527.8 L219.5 526.6 L223.5 527.8 L227.5 527.9 L231.5 527.2 L235.5 528.1 L240.5 528.4 L244.5 528.4 L248.5 528.4 L252.5 528.4 L257.5 528.4 L261.5 528.4 L265.5 528.4 L269.5 528.4 L274.5 528.4 L278.5 528.4 L282.5 528.4 L286.5 528.4 L290.5 528.4 L295.5 528.4 L299.5 528.4 L303.5 528.4 L307.5 528.2 L312.5 528.3 L316.5 528.2 L320.5 527.8 L324.5 528.2 L329.5 528.2 L333.5 527.8 L337.5 528.2 L341.5 528.2 L346.5 527.8 L350.5 528.2 L354.5 528.2 L358.5 527.7 L362.5 528.2 L367.5 528.2 L371.5 527.7 L375.5 528.2 L379.5 528.1 L384.5 526.8 L388.5 527.6 L392.5 527.5 L396.5 525.8 L401.5 527.5 L405.5 527.5 L409.5 525.6 L413.5 527.5 L418.5 527.4 L422.5 525.5 L426.5 526.9 L430.5 525.5 L434.5 515.6 L439.5 524.4 L443.5 524.4 L447.5 516.5 L451.5 524.4 L456.5 523.7 L460.5 511.8 L464.5 522.5 L468.5 522.2 L473.5 509.0 L477.5 521.8 L481.5 522.1 L485.5 510.2 L490.5 522.7 L494.5 523.0 L498.5 513.1 L502.5 523.7 L506.5 524.3 L511.5 518.0 L515.5 525.4 L519.5 525.9 L523.5 522.1 L528.5 527.4M617.5 529.2 L621.5 528.2 L625.5 524.1 L629.5 525.7 L633.5 524.4 L638.5 512.0 L642.5 521.7 L646.5 520.6 L650.5 501.6 L655.5 518.5 L659.5 517.8 L663.5 495.5 L667.5 518.6 L672.5 520.1 L676.5 506.6 L680.5 522.2 L684.5 522.9 L689.5 512.2 L693.5 523.8 L697.5 524.7 L701.5 519.9 L705.5 526.2 L710.5 526.3 L714.5 522.1 L718.5 526.3 L722.5 526.3M3.5 528.1 L7.5 528.0 L11.5 527.2 L15.5 528.0 L19.5 527.9 L24.5 526.0 L28.5 527.4 L32.5 527.2 L36.5 524.5 L41.5 526.9 L45.5 526.5 L49.5 521.7 L53.5 526.0 L58.5 523.8 L62.5 508.6 L66.5 522.7 L70.5 523.5 L75.5 516.7 L79.5 525.0 L83.5 525.1 L87.5 517.2 L91.5 524.6 L96.5 524.5 L100.5 517.2 L104.5 525.0 L108.5 525.5 L113.5 521.6 L117.5 526.6 L121.5 527.0 L125.5 524.4 L130.5 527.2 L134.5 527.3 L138.5 525.3 L142.5 527.4 L147.5 527.3 L151.5 524.8 L155.5 527.0 L159.5 526.9 L163.5 523.2 L168.5 526.6 L172.5 526.7 L176.5 523.3 L180.5 526.8 L185.5 527.2 L189.5 525.7 L193.5 527.6 L197.5 527.7 L202.5 526.6 L206.5 527.8 L210.5 527.8 L214.5 526.6 L219.5 527.8 L223.5 527.8 L227.5 526.8 L231.5 528.0 L235.5 528.1 L240.5 528.4 L244.5 528.4 L248.5 528.4 L252.5 528.4 L257.5 528.4 L261.5 528.4 L265.5 528.4 L269.5 528.4 L274.5 528.4 L278.5 528.4 L282.5 528.4 L286.5 528.4 L290.5 528.4 L295.5 528.4 L299.5 528.4 L303.5 528.3 L307.5 528.3 L312.5 528.3 L316.5 527.9 L320.5 528.2 L324.5 528.2 L329.5 527.8 L333.5 528.2 L337.5 528.2 L341.5 527.8 L346.5 528.2 L350.5 528.2 L354.5 527.7 L358.5 528.2 L362.5 528.2 L367.5 527.7 L371.5 528.2 L375.5 528.2 L379.5 527.6 L384.5 527.9 L388.5 527.6 L392.5 525.8 L396.5 527.5 L401.5 527.5 L405.5 525.7 L409.5 527.5 L413.5 527.5 L418.5 525.5 L422.5 527.4 L426.5 526.9 L430.5 519.7 L434.5 524.1 L439.5 524.4 L443.5 516.4 L447.5 524.4 L451.5 524.4 L456.5 514.4 L460.5 522.9 L464.5 522.5 L468.5 509.9 L473.5 521.9 L477.5 521.8 L481.5 509.5 L485.5 522.3 L490.5 522.7 L494.5 512.1 L498.5 523.3 L502.5 523.7 L506.5 516.0 L511.5 524.9 L515.5 525.4 L519.5 520.8 L523.5 526.3 L528.5 527.4M617.5 529.2 L621.5 527.9 L625.5 527.0 L629.5 525.7 L633.5 516.5 L638.5 522.9 L642.5 521.7 L646.5 504.9 L650.5 519.5 L655.5 518.5 L659.5 496.5 L663.5 517.4 L667.5 518.6 L672.5 503.4 L676.5 521.1 L680.5 522.2 L684.5 511.9 L689.5 523.0 L693.5 523.8 L697.5 517.3 L701.5 525.6 L705.5 526.2 L710.5 522.0 L714.5 526.3 L718.5 526.3 L722.5 522.2" fill="none" stroke="#00bcd4" stroke-width="1"/><path d="M528.5 522.6 L532.5 529.9 L536.5 539.2 L540.5 543.7 L545.5 544.2 L549.5 537.0 L553.5 528.4 L557.5 562.1 L562.5 591.1 L566.5 584.0 L570.5 576.5 L574.5 568.6 L578.5 560.7 L583.5 551.8 L587.5 543.2 L591.5 535.0 L595.5 528.4 L600.5 546.7 L604.5 557.8 L608.5 547.9 L612.5 539.8 L617.5 532.3M528.5 521.2 L532.5 529.6 L536.5 536.5 L540.5 538.6 L545.5 536.3 L549.5 528.4 L553.5 563.9 L557.5 595.8 L562.5 583.3 L566.5 576.1 L570.5 568.5 L574.5 560.6 L578.5 552.6 L583.5 544.0 L587.5 535.8 L591.5 528.4 L595.5 551.1 L600.5 564.9 L604.5 554.1 L608.5 545.1 L612.5 537.9 L617.5 531.5M528.5 522.6 L532.5 529.3 L536.5 533.8 L540.5 533.5 L545.5 528.4 L549.5 562.8 L553.5 599.3 L557.5 587.4 L562.5 575.4 L566.5 568.1 L570.5 560.5 L574.5 552.5 L578.5 544.5 L583.5 536.2 L587.5 528.4 L591.5 554.7 L595.5 573.8 L600.5 560.4 L604.5 550.4 L608.5 542.3 L612.5 536.0 L617.5 530.7M528.5 524.1 L532.5 529.0 L536.5 531.1 L540.5 528.4 L545.5 560.0 L549.5 597.3 L553.5 590.4 L557.5 578.9 L562.5 567.6 L566.5 560.2 L570.5 552.5 L574.5 544.5 L578.5 536.5 L583.5 528.4 L587.5 557.9 L591.5 580.9 L595.5 568.1 L600.5 555.8 L604.5 546.8 L608.5 539.5 L612.5 534.1 L617.5 530.0M528.5 525.5 L532.5 528.7 L536.5 528.4 L540.5 548.9 L545.5 591.7 L549.5 588.7 L553.5 581.6 L557.5 570.5 L562.5 559.8 L566.5 552.2 L570.5 544.4 L574.5 536.4 L578.5 528.4 L583.5 559.6 L587.5 587.5 L591.5 574.4 L595.5 562.5 L600.5 551.2 L604.5 543.1 L608.5 536.7 L612.5 532.2 L617.5 529.2M528.5 527.0 L532.5 528.4 L536.5 539.2 L540.5 569.3 L545.5 583.8 L549.5 580.1 L553.5 572.7 L557.5 562.1 L562.5 551.9 L566.5 544.3 L570.5 536.4 L574.5 528.4 L578.5 560.7 L583.5 590.8 L587.5 580.1 L591.5 567.8 L595.5 556.8 L600.5 546.7 L604.5 539.4 L608.5 534.0 L612.5 530.3 L617.5 528.4M528.5 528.4 L532.5 529.6 L536.5 550.1 L540.5 564.2 L545.5 575.9 L549.5 571.5 L553.5 563.9 L557.5 553.7 L562.5 544.1 L566.5 536.3 L570.5 528.4 L574.5 560.6 L578.5 593.0 L583.5 583.0 L587.5 572.7 L591.5 561.2 L595.5 551.1 L600.5 542.1 L604.5 535.7 L608.5 531.2 L612.5 528.4 L617.5 531.5M528.5 527.0 L532.5 530.8 L536.5 547.4 L540.5 559.1 L545.5 568.0 L549.5 562.9 L553.5 555.0 L557.5 545.2 L562.5 536.2 L566.5 528.4 L570.5 560.5 L574.5 592.8 L578.5 584.9 L583.5 575.2 L587.5 565.3 L591.5 554.7 L595.5 545.4 L600.5 537.5 L604.5 532.1 L608.5 528.4 L612.5 536.0 L617.5 534.6M528.5 525.5 L532.5 530.5 L536.5 544.7 L540.5 554.0 L545.5 560.1 L549.5 554.2 L553.5 546.1 L557.5 536.8 L562.5 528.4 L566.5 560.2 L570.5 592.6 L574.5 584.7 L578.5 576.8 L583.5 567.4 L587.5 558.0 L591.5 548.1 L595.5 539.8 L600.5 533.0 L604.5 528.4 L608.5 539.5 L612.5 543.5 L617.5 533.9M528.5 524.1 L532.5 530.2 L536.5 541.9 L540.5 548.9 L545.5 552.1 L549.5 545.6 L553.5 537.3 L557.5 528.4 L562.5 559.8 L566.5 592.0 L570.5 584.6 L574.5 576.7 L578.5 568.8 L583.5 559.6 L587.5 550.6 L591.5 541.5 L595.5 534.1 L600.5 528.4 L604.5 543.1 L608.5 550.7 L612.5 541.6 L617.5 533.1M528.5 528.4 L532.5 528.8 L536.5 536.2 L540.5 535.8 L545.5 528.4 L549.5 540.8 L553.5 553.9 L557.5 540.5 L562.5 528.4 L566.5 539.8 L570.5 551.5 L574.5 540.0 L578.5 528.4 L583.5 539.6 L587.5 549.7 L591.5 537.9 L595.5 528.4 L600.5 535.0 L604.5 539.0 L608.5 532.4 L612.5 528.4 L617.5 529.5M528.5 527.1 L532.5 529.3 L536.5 532.3 L540.5 528.4 L545.5 539.8 L549.5 553.2 L553.5 541.2 L557.5 528.4 L562.5 539.7 L566.5 551.3 L570.5 540.0 L574.5 528.4 L578.5 540.0 L583.5 550.9 L587.5 539.0 L591.5 528.4 L595.5 536.6 L600.5 541.5 L604.5 533.7 L608.5 528.4 L612.5 531.1 L617.5 530.6M528.5 525.8 L532.5 528.8 L536.5 528.4 L540.5 535.8 L545.5 551.2 L549.5 540.8 L553.5 528.4 L557.5 540.5 L562.5 551.0 L566.5 539.8 L570.5 528.4 L574.5 540.0 L578.5 551.6 L583.5 539.6 L587.5 528.4 L591.5 537.9 L595.5 544.8 L600.5 535.0 L604.5 528.4 L608.5 532.4 L612.5 533.9 L617.5 529.5M528.5 527.1 L532.5 528.4 L536.5 532.3 L540.5 543.1 L545.5 539.8 L549.5 528.4 L553.5 541.2 L557.5 552.7 L562.5 539.7 L566.5 528.4 L570.5 540.0 L574.5 551.6 L578.5 540.0 L583.5 528.4 L587.5 539.0 L591.5 547.3 L595.5 536.6 L600.5 528.4 L604.5 533.7 L608.5 536.4 L612.5 531.1 L617.5 528.4M528.5 526.5 L532.5 528.6 L536.5 530.3 L540.5 539.0 L545.5 533.9 L549.5 534.4 L553.5 546.8 L557.5 534.2 L562.5 533.8 L566.5 544.9 L570.5 534.0 L574.5 534.0 L578.5 545.2 L583.5 533.8 L587.5 533.5 L591.5 542.1 L595.5 532.3 L600.5 531.6 L604.5 536.0 L608.5 530.3 L612.5 529.7 L617.5 530.0M528.5 527.8 L532.5 528.6 L536.5 534.0 L540.5 531.9 L545.5 533.9 L549.5 546.3 L553.5 534.5 L557.5 534.2 L562.5 544.7 L566.5 533.9 L570.5 534.0 L574.5 545.1 L578.5 534.0 L583.5 533.8 L587.5 543.8 L591.5 533.0 L595.5 532.3 L600.5 537.9 L604.5 530.9 L608.5 530.3 L612.5 532.3 L617.5 528.9M528.5 527.8 L532.5 529.0 L536.5 530.3 L540.5 531.9 L545.5 544.9 L549.5 534.4 L553.5 534.5 L557.5 545.9 L562.5 533.8 L566.5 533.9 L570.5 545.1 L574.5 534.0 L578.5 534.0 L583.5 544.6 L587.5 533.5 L591.5 533.0 L595.5 540.2 L600.5 531.6 L604.5 530.9 L608.5 534.2 L612.5 529.7 L617.5 528.9" fill="none" stroke="#7344cc" stroke-width="1"/><path d="M3.5 528.4 L3.5 528.0 L7.5 527.9 L11.5 527.9 L15.5 527.9 L19.5 527.8 L24.5 527.4 L28.5 527.2 L32.5 527.0 L36.5 526.8 L41.5 526.6 L45.5 526.1 L49.5 525.7 L53.5 525.5 L58.5 522.9 L62.5 520.5 L66.5 521.6 L70.5 522.6 L75.5 523.7 L79.5 524.4 L83.5 524.4 L87.5 523.9 L91.5 523.9 L96.5 523.7 L100.5 523.9 L104.5 524.3 L108.5 524.9 L113.5 525.7 L117.5 526.3 L121.5 526.7 L125.5 526.8 L130.5 526.9 L134.5 527.0 L138.5 527.2 L142.5 527.2 L147.5 527.1 L151.5 527.0 L155.5 526.8 L159.5 526.5 L163.5 526.3 L168.5 526.3 L172.5 526.3 L176.5 526.4 L180.5 526.5 L185.5 526.9 L189.5 527.3 L193.5 527.5 L197.5 527.6 L202.5 527.7 L206.5 527.7 L210.5 527.7 L214.5 527.7 L219.5 527.7 L223.5 527.7 L227.5 527.8 L231.5 527.9 L235.5 528.1 L240.5 528.4 L244.5 528.4 L248.5 528.4 L252.5 528.4 L257.5 528.4 L261.5 528.4 L265.5 528.4 L269.5 528.4 L274.5 528.4 L278.5 528.4 L282.5 528.4 L286.5 528.4 L290.5 528.4 L295.5 528.4 L299.5 528.4 L303.5 528.4 L307.5 528.3 L312.5 528.3 L316.5 528.2 L320.5 528.2 L324.5 528.2 L329.5 528.2 L333.5 528.2 L337.5 528.2 L341.5 528.1 L346.5 528.1 L350.5 528.1 L354.5 528.1 L358.5 528.1 L362.5 528.1 L367.5 528.1 L371.5 528.1 L375.5 528.1 L379.5 528.1 L384.5 527.8 L388.5 527.5 L392.5 527.4 L396.5 527.3 L401.5 527.3 L405.5 527.3 L409.5 527.3 L413.5 527.3 L418.5 527.2 L422.5 527.2 L426.5 526.6 L430.5 524.9 L434.5 523.3 L439.5 523.5 L443.5 523.6 L447.5 523.6 L451.5 523.6 L456.5 522.8 L460.5 521.8 L464.5 521.3 L468.5 521.0 L473.5 520.6 L477.5 520.5 L481.5 520.8 L485.5 521.1 L490.5 521.5 L494.5 521.9 L498.5 522.3 L502.5 522.8 L506.5 523.5 L511.5 524.3 L515.5 524.8 L519.5 525.4 L523.5 525.9 L528.5 527.2 L528.5 528.4 ZM621.5 528.4 L621.5 528.2 L625.5 526.7 L629.5 525.2 L633.5 523.6 L638.5 521.8 L642.5 520.4 L646.5 519.0 L650.5 517.7 L655.5 516.5 L659.5 515.6 L663.5 515.2 L667.5 516.7 L672.5 518.4 L676.5 519.7 L680.5 521.0 L684.5 521.8 L689.5 521.9 L693.5 522.9 L697.5 524.0 L701.5 525.0 L705.5 525.8 L710.5 525.8 L714.5 525.9 L718.5 525.9 L722.5 525.9 L722.5 528.4 Z" fill="#00bcd4" fill-opacity="0.8"/><path d="M532.5 528.4 L532.5 528.8 L536.5 531.9 L540.5 534.9 L545.5 538.5 L549.5 539.4 L553.5 539.7 L557.5 539.2 L562.5 538.4 L566.5 538.6 L570.5 538.7 L574.5 538.7 L578.5 538.7 L583.5 538.4 L587.5 537.9 L591.5 536.8 L595.5 535.7 L600.5 534.2 L604.5 533.1 L608.5 532.0 L612.5 530.8 L617.5 529.4 L617.5 528.4 Z" fill="#7344cc" fill-opacity="0.8"/><path d="M0 527.9H252M299 527.9H532M621 527.9H723" stroke="#00bcd4" stroke-width="1.2"/><path d="M0.0 527.5 L30.0 525.0 L55.0 522.0 L62.0 517.6 L80.0 520.0 L100.0 521.0 L115.0 525.0 L140.0 527.0 L160.0 526.5 L165.0 524.6 L200.0 527.0 L252.0 528.0" fill="none" stroke="#006400" stroke-width="2.2" stroke-linejoin="round" stroke-linecap="round" stroke-opacity="1"/><path d="M299.0 528.0 L390.0 527.5 L420.0 526.0 L434.0 522.0 L450.0 521.6 L470.0 518.0 L490.0 518.0 L510.0 521.0 L532.0 528.4" fill="none" stroke="#006400" stroke-width="2.2" stroke-linejoin="round" stroke-linecap="round" stroke-opacity="1"/><path d="M621.0 528.4 L645.0 505.0 L660.0 497.0 L665.0 497.5 L680.0 511.0 L690.0 518.0 L705.0 522.0 L723.0 524.0" fill="none" stroke="#006400" stroke-width="2.2" stroke-linejoin="round" stroke-linecap="round" stroke-opacity="1"/><path d="M252.0 528.6 L299.0 528.6" fill="none" stroke="#9a0000" stroke-width="2.0" stroke-linejoin="round" stroke-linecap="round" stroke-opacity="1"/><path d="M532.0 528.4 L540.0 535.0 L549.0 544.6 L554.0 546.7 L565.0 547.5 L580.0 549.4 L590.0 546.0 L600.0 541.0 L612.0 533.9 L621.0 528.4" fill="none" stroke="#9a0000" stroke-width="2.0" stroke-linejoin="round" stroke-linecap="round" stroke-opacity="1"/><g shape-rendering="crispEdges"><rect x="164.5" y="16.5" width="2" height="2" fill="#6d707a"/><rect x="193.5" y="16.5" width="2" height="2" fill="#6d707a"/><path d="M1212 27h47a3 3 0 0 1 3 3v11a3 3 0 0 1 -3 3h-47z" fill="#ef5350"/><rect x="1212" y="35" width="5" height="1" fill="#ffffff"/></g><path d="M746.8 251H1126.2A2.8 2.8 0 0 1 1129 253.8V388.2A2.8 2.8 0 0 1 1126.2 391H746.8A2.8 2.8 0 0 1 744 388.2V328L736 321L744 314V253.8A2.8 2.8 0 0 1 746.8 251Z" fill="#00897b"/><g shape-rendering="crispEdges"><path d="M748 290.5H1081" stroke="#ffffff" stroke-width="1" stroke-dasharray="8.5 0.5"/><path d="M748 292.5H1081" stroke="#ffffff" stroke-width="1" stroke-dasharray="8.5 0.5"/><path d="M748 350.5H1081" stroke="#ffffff" stroke-width="1" stroke-dasharray="8.5 0.5"/><path d="M748 352.5H1081" stroke="#ffffff" stroke-width="1" stroke-dasharray="8.5 0.5"/></g><g fill="none" stroke="#ffffff" stroke-width="1"><path d="M756.36 268.49 L754.69 270.16 L752.31 270.16 L750.64 268.49 L750.64 266.11 L752.31 264.44 L754.69 264.44 L756.36 266.11Z"/><path d="M756.90 267.30L758.80 267.30M755.90 269.70L757.25 271.05M753.50 270.70L753.50 272.60M751.10 269.70L749.75 271.05M750.10 267.30L748.20 267.30M751.10 264.90L749.75 263.55M753.50 263.90L753.50 262.00M755.90 264.90L757.25 263.55"/><path d="M765.8 262.4Q759.2 264.6 760.4 268.6Q761.6 271.2 765.8 271.4Q762.6 269.6 762.6 267Q762.8 263.6 765.8 262.4Z" stroke-width="0.9"/></g><circle cx="1163" cy="321" r="25" fill="#ededed" fill-opacity="0.96"/><path d="M1158.5 314q0-2.2 1.9-1.1l10 6.9q1.6 1.2 0 2.4l-10 6.9q-1.9 1.1-1.9-1.1z" fill="#2481d8"/><text x="231.8" y="311.2" font-size="7" font-weight="bold" fill="#ffffff" text-anchor="middle">TP</text><text x="246.1" y="311.2" font-size="7" font-weight="bold" fill="#ffffff" text-anchor="middle">1</text><text x="257.3" y="311.2" font-size="7" font-weight="bold" fill="#ffffff" text-anchor="middle">SL</text><text x="524" y="311.2" font-size="7" font-weight="bold" fill="#ffffff" text-anchor="middle">TP</text><text x="243.2" y="336.2" font-size="7" font-weight="bold" fill="#ffffff" text-anchor="middle">l</text><text x="253" y="336.2" font-size="7" font-weight="bold" fill="#ffffff" text-anchor="middle">L</text><text x="286.8" y="336.2" font-size="7" font-weight="bold" fill="#ffffff" text-anchor="middle">L</text><text x="591.6" y="336.2" font-size="7" font-weight="bold" fill="#ffffff" text-anchor="middle">L</text><text x="7.62" y="23" font-size="16.5" fill="#cdd0d8" textLength="69.91" lengthAdjust="spacingAndGlyphs" >Ethereum</text><text x="95.8" y="23" font-size="16.5" fill="#cdd0d8" textLength="64.03" lengthAdjust="spacingAndGlyphs" >TetherUS</text><text x="171.2" y="23" font-size="16.5" fill="#cdd0d8" textLength="17.75" lengthAdjust="spacingAndGlyphs" >4h</text><text x="200.45" y="23" font-size="16.5" fill="#cdd0d8" textLength="62.05" lengthAdjust="spacingAndGlyphs" >BINANCE</text><text x="84.2" y="23" font-size="16.5" fill="#cdd0d8" text-anchor="start" >/</text><text x="7.43" y="220" font-size="12.5" fill="#cdd0d8" textLength="102.17" lengthAdjust="spacingAndGlyphs" >LOGISTIC by DGT</text><text x="7.43" y="447" font-size="12.5" fill="#cdd0d8" textLength="102.17" lengthAdjust="spacingAndGlyphs">LOGISTIC by DGT</text><text x="1221.03" y="16" font-size="12" fill="#b2b5be" textLength="35.65" lengthAdjust="spacingAndGlyphs" >650.00</text><text x="1221.03" y="50" font-size="12" fill="#b2b5be" textLength="35.65" lengthAdjust="spacingAndGlyphs" >600.00</text><text x="1221.03" y="83" font-size="12" fill="#b2b5be" textLength="35.65" lengthAdjust="spacingAndGlyphs" >550.00</text><text x="1221.03" y="117" font-size="12" fill="#b2b5be" textLength="35.65" lengthAdjust="spacingAndGlyphs" >500.00</text><text x="1222.0" y="150" font-size="12" fill="#b2b5be" textLength="34.66" lengthAdjust="spacingAndGlyphs" >450.00</text><text x="1222.0" y="184" font-size="12" fill="#b2b5be" textLength="34.66" lengthAdjust="spacingAndGlyphs" >400.00</text><text x="1221.7" y="266" font-size="12" fill="#b2b5be" textLength="21.12" lengthAdjust="spacingAndGlyphs" >0.01</text><text x="1221.7" y="326" font-size="12" fill="#b2b5be" textLength="22.75" lengthAdjust="spacingAndGlyphs" >0.00</text><text x="1222.1" y="385" font-size="12" fill="#b2b5be" textLength="26.13" lengthAdjust="spacingAndGlyphs" >–0.01</text><text x="1221.7" y="477" font-size="12" fill="#b2b5be" textLength="22.75" lengthAdjust="spacingAndGlyphs" >0.00</text><text x="1221.7" y="533" font-size="12" fill="#b2b5be" textLength="22.75" lengthAdjust="spacingAndGlyphs" >0.00</text><text x="1222.1" y="589" font-size="12" fill="#b2b5be" textLength="27.93" lengthAdjust="spacingAndGlyphs" >–0.00</text><text x="1221.7" y="207" font-size="12" fill="#b2b5be" textLength="21.12" lengthAdjust="spacingAndGlyphs" >0.01</text><text x="1221.06" y="40" font-size="12" fill="#ffffff" textLength="34.61" lengthAdjust="spacingAndGlyphs" >614.36</text><text x="95.7" y="633" font-size="12" fill="#b2b5be" text-anchor="middle" textLength="6.67" lengthAdjust="spacingAndGlyphs">9</text><text x="184.7" y="633" font-size="12" fill="#b2b5be" text-anchor="middle" textLength="28.4" lengthAdjust="spacingAndGlyphs">15:00</text><text x="273.7" y="633" font-size="12" fill="#b2b5be" text-anchor="middle" textLength="12.7" lengthAdjust="spacingAndGlyphs">16</text><text x="361.7" y="633" font-size="12" fill="#b2b5be" text-anchor="middle" textLength="28.4" lengthAdjust="spacingAndGlyphs">15:00</text><text x="450.7" y="633" font-size="12" fill="#b2b5be" text-anchor="middle" textLength="12.7" lengthAdjust="spacingAndGlyphs">23</text><text x="552.7" y="633" font-size="12" fill="#b2b5be" text-anchor="middle" textLength="12.7" lengthAdjust="spacingAndGlyphs">27</text><text x="654.7" y="633" font-size="12" fill="#b2b5be" text-anchor="middle" textLength="21.8" lengthAdjust="spacingAndGlyphs">Dec</text><text x="806.7" y="633" font-size="12" fill="#b2b5be" text-anchor="middle" textLength="6.67" lengthAdjust="spacingAndGlyphs">7</text><text x="895.7" y="633" font-size="12" fill="#b2b5be" text-anchor="middle" textLength="28.4" lengthAdjust="spacingAndGlyphs">15:00</text><text x="984.7" y="633" font-size="12" fill="#b2b5be" text-anchor="middle" textLength="12.7" lengthAdjust="spacingAndGlyphs">14</text><text x="1073.7" y="633" font-size="12" fill="#b2b5be" text-anchor="middle" textLength="28.4" lengthAdjust="spacingAndGlyphs">15:00</text><text x="1162.7" y="633" font-size="12" fill="#b2b5be" text-anchor="middle" textLength="12.7" lengthAdjust="spacingAndGlyphs">21</text><text x="771.2" y="271" font-size="12" fill="#ffffff" textLength="225.42" lengthAdjust="spacingAndGlyphs" >Trade Statistics*, Trade Period - 1 Year(s)</text><text x="747.27" y="283" font-size="12" fill="#ffffff" textLength="279.18" lengthAdjust="spacingAndGlyphs" >Selected Indicator -&gt; Relative Strength Index (RSI)</text><text x="747.28" y="307" font-size="12" fill="#ffffff" textLength="327.81" lengthAdjust="spacingAndGlyphs" >Success Ratio ...... : 27%, # of Trades - 99, Win/Loss - 27/71</text><text x="747.29" y="319" font-size="12" fill="#ffffff" textLength="321.31" lengthAdjust="spacingAndGlyphs" >Gain/Loss % ........ : 470%, Initial/Final Value** - 1000 / 5703</text><text x="747.3" y="343" font-size="12" fill="#ffffff" textLength="375.5" lengthAdjust="spacingAndGlyphs" >Current TradeStatus - inTrade, Gain/Loss 15.15%, Stop Loss 528.1749</text><text x="747.27" y="367" font-size="12" fill="#ffffff" textLength="249.49" lengthAdjust="spacingAndGlyphs" >Entry Price/Value . : 533.51 / 4952.34 inTrade</text><text x="747.27" y="379" font-size="12" fill="#ffffff" textLength="250.95" lengthAdjust="spacingAndGlyphs" >Last Price/Value ... : 614.36 / 5702.84 inTrade</text></svg>
</body></html>
